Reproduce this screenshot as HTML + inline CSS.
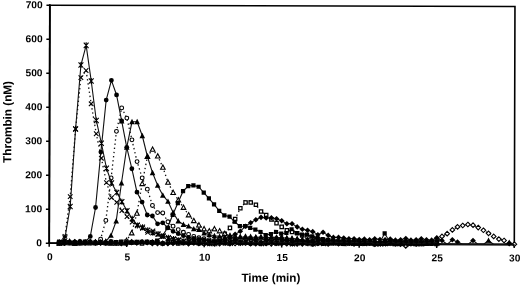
<!DOCTYPE html>
<html><head><meta charset="utf-8"><style>
html,body{margin:0;padding:0;background:#fff;}
body{width:520px;height:285px;overflow:hidden;}
svg{display:block;will-change:transform;}
text{-webkit-font-smoothing:antialiased;}
.tl{font-family:"Liberation Sans",sans-serif;font-weight:bold;font-size:10.2px;fill:#000;}
.tt{font-family:"Liberation Sans",sans-serif;font-weight:bold;font-size:11.7px;fill:#000;}
</style></head><body>
<svg width="520" height="285" viewBox="0 0 520 285">
<g transform="rotate(0.16 49 243.2)">
<path d="M49.2 5.2H514.3V243.2H49.2Z" fill="none" stroke="#000" stroke-width="1.6"/>
<path d="M49.2 4.2V244" stroke="#000" stroke-width="1.8"/>
<path d="M48.4 243.2H515" stroke="#000" stroke-width="1.8"/>
<path d="M45.8 243.20H49.2 M45.8 209.20H49.2 M45.8 175.20H49.2 M45.8 141.20H49.2 M45.8 107.20H49.2 M45.8 73.20H49.2 M45.8 39.20H49.2 M45.8 5.20H49.2 M49.20 243.2V246.8 M126.70 243.2V246.8 M204.20 243.2V246.8 M281.70 243.2V246.8 M359.20 243.2V246.8 M436.70 243.2V246.8 M514.20 243.2V246.8" stroke="#000" stroke-width="1.5"/>
<polyline points="59.24,242.49 64.42,242.76 69.59,242.01 74.76,242.03 79.93,242.57 85.10,242.73 90.28,242.24 95.45,241.96 100.62,242.89 105.79,242.21 110.96,241.75 116.14,242.76 121.31,243.20 126.48,243.20 131.65,242.25 136.82,242.33 142.00,241.75 147.17,241.97 152.34,243.20 157.51,243.20 162.68,243.18 167.86,243.20 173.03,242.27 178.20,241.96 183.37,241.87 188.54,243.19 193.72,241.95 198.89,243.07 204.06,242.85 209.23,242.22 214.40,243.20 219.58,243.20 224.75,242.01 229.92,243.11 235.09,242.98 240.26,242.53 245.44,242.33 250.61,243.20 255.78,243.03 260.95,242.82 266.12,242.72 271.30,243.20 276.47,242.52 281.64,241.76 286.81,242.91 291.98,242.60 297.16,243.20 302.33,243.15 307.50,242.35 312.67,243.20 317.84,241.90 323.02,241.86 328.19,243.20 333.36,241.79 338.53,242.95 343.70,242.13 348.88,242.17 354.05,243.11 359.22,242.33 364.39,242.38 369.56,242.07 374.74,243.17 379.91,242.17 385.08,241.75 390.25,242.34 395.42,242.62 400.60,243.20 405.77,244.90 410.94,242.70 416.11,242.99 421.28,242.25 426.46,241.65 431.63,240.82 436.80,237.69 441.97,235.30 447.14,232.57 452.32,228.81 457.49,225.74 462.66,224.36 467.83,223.33 473.00,223.99 478.18,226.36 483.35,229.06 488.52,232.11 493.69,235.15 498.86,237.86 504.04,239.21 509.21,242.18 514.38,242.86" fill="none" stroke="#111" stroke-width="1.3" stroke-dasharray="1.4 2.8"/>
<path d="M59.24 240.19L61.54 242.49L59.24 244.79L56.94 242.49Z" fill="#fff" stroke="#000" stroke-width="1.1"/>
<path d="M64.42 240.46L66.72 242.76L64.42 245.06L62.12 242.76Z" fill="#fff" stroke="#000" stroke-width="1.1"/>
<path d="M69.59 239.71L71.89 242.01L69.59 244.31L67.29 242.01Z" fill="#fff" stroke="#000" stroke-width="1.1"/>
<path d="M74.76 239.73L77.06 242.03L74.76 244.33L72.46 242.03Z" fill="#fff" stroke="#000" stroke-width="1.1"/>
<path d="M79.93 240.27L82.23 242.57L79.93 244.87L77.63 242.57Z" fill="#fff" stroke="#000" stroke-width="1.1"/>
<path d="M85.10 240.43L87.40 242.73L85.10 245.03L82.80 242.73Z" fill="#fff" stroke="#000" stroke-width="1.1"/>
<path d="M90.28 239.94L92.58 242.24L90.28 244.54L87.98 242.24Z" fill="#fff" stroke="#000" stroke-width="1.1"/>
<path d="M95.45 239.66L97.75 241.96L95.45 244.26L93.15 241.96Z" fill="#fff" stroke="#000" stroke-width="1.1"/>
<path d="M100.62 240.59L102.92 242.89L100.62 245.19L98.32 242.89Z" fill="#fff" stroke="#000" stroke-width="1.1"/>
<path d="M105.79 239.91L108.09 242.21L105.79 244.51L103.49 242.21Z" fill="#fff" stroke="#000" stroke-width="1.1"/>
<path d="M110.96 239.45L113.26 241.75L110.96 244.05L108.66 241.75Z" fill="#fff" stroke="#000" stroke-width="1.1"/>
<path d="M116.14 240.46L118.44 242.76L116.14 245.06L113.84 242.76Z" fill="#fff" stroke="#000" stroke-width="1.1"/>
<path d="M121.31 240.90L123.61 243.20L121.31 245.50L119.01 243.20Z" fill="#fff" stroke="#000" stroke-width="1.1"/>
<path d="M126.48 240.90L128.78 243.20L126.48 245.50L124.18 243.20Z" fill="#fff" stroke="#000" stroke-width="1.1"/>
<path d="M131.65 239.95L133.95 242.25L131.65 244.55L129.35 242.25Z" fill="#fff" stroke="#000" stroke-width="1.1"/>
<path d="M136.82 240.03L139.12 242.33L136.82 244.63L134.52 242.33Z" fill="#fff" stroke="#000" stroke-width="1.1"/>
<path d="M142.00 239.45L144.30 241.75L142.00 244.05L139.70 241.75Z" fill="#fff" stroke="#000" stroke-width="1.1"/>
<path d="M147.17 239.67L149.47 241.97L147.17 244.27L144.87 241.97Z" fill="#fff" stroke="#000" stroke-width="1.1"/>
<path d="M152.34 240.90L154.64 243.20L152.34 245.50L150.04 243.20Z" fill="#fff" stroke="#000" stroke-width="1.1"/>
<path d="M157.51 240.90L159.81 243.20L157.51 245.50L155.21 243.20Z" fill="#fff" stroke="#000" stroke-width="1.1"/>
<path d="M162.68 240.88L164.98 243.18L162.68 245.48L160.38 243.18Z" fill="#fff" stroke="#000" stroke-width="1.1"/>
<path d="M167.86 240.90L170.16 243.20L167.86 245.50L165.56 243.20Z" fill="#fff" stroke="#000" stroke-width="1.1"/>
<path d="M173.03 239.97L175.33 242.27L173.03 244.57L170.73 242.27Z" fill="#fff" stroke="#000" stroke-width="1.1"/>
<path d="M178.20 239.66L180.50 241.96L178.20 244.26L175.90 241.96Z" fill="#fff" stroke="#000" stroke-width="1.1"/>
<path d="M183.37 239.57L185.67 241.87L183.37 244.17L181.07 241.87Z" fill="#fff" stroke="#000" stroke-width="1.1"/>
<path d="M188.54 240.89L190.84 243.19L188.54 245.49L186.24 243.19Z" fill="#fff" stroke="#000" stroke-width="1.1"/>
<path d="M193.72 239.65L196.02 241.95L193.72 244.25L191.42 241.95Z" fill="#fff" stroke="#000" stroke-width="1.1"/>
<path d="M198.89 240.77L201.19 243.07L198.89 245.37L196.59 243.07Z" fill="#fff" stroke="#000" stroke-width="1.1"/>
<path d="M204.06 240.55L206.36 242.85L204.06 245.15L201.76 242.85Z" fill="#fff" stroke="#000" stroke-width="1.1"/>
<path d="M209.23 239.92L211.53 242.22L209.23 244.52L206.93 242.22Z" fill="#fff" stroke="#000" stroke-width="1.1"/>
<path d="M214.40 240.90L216.70 243.20L214.40 245.50L212.10 243.20Z" fill="#fff" stroke="#000" stroke-width="1.1"/>
<path d="M219.58 240.90L221.88 243.20L219.58 245.50L217.28 243.20Z" fill="#fff" stroke="#000" stroke-width="1.1"/>
<path d="M224.75 239.71L227.05 242.01L224.75 244.31L222.45 242.01Z" fill="#fff" stroke="#000" stroke-width="1.1"/>
<path d="M229.92 240.81L232.22 243.11L229.92 245.41L227.62 243.11Z" fill="#fff" stroke="#000" stroke-width="1.1"/>
<path d="M235.09 240.68L237.39 242.98L235.09 245.28L232.79 242.98Z" fill="#fff" stroke="#000" stroke-width="1.1"/>
<path d="M240.26 240.23L242.56 242.53L240.26 244.83L237.96 242.53Z" fill="#fff" stroke="#000" stroke-width="1.1"/>
<path d="M245.44 240.03L247.74 242.33L245.44 244.63L243.14 242.33Z" fill="#fff" stroke="#000" stroke-width="1.1"/>
<path d="M250.61 240.90L252.91 243.20L250.61 245.50L248.31 243.20Z" fill="#fff" stroke="#000" stroke-width="1.1"/>
<path d="M255.78 240.73L258.08 243.03L255.78 245.33L253.48 243.03Z" fill="#fff" stroke="#000" stroke-width="1.1"/>
<path d="M260.95 240.52L263.25 242.82L260.95 245.12L258.65 242.82Z" fill="#fff" stroke="#000" stroke-width="1.1"/>
<path d="M266.12 240.42L268.42 242.72L266.12 245.02L263.82 242.72Z" fill="#fff" stroke="#000" stroke-width="1.1"/>
<path d="M271.30 240.90L273.60 243.20L271.30 245.50L269.00 243.20Z" fill="#fff" stroke="#000" stroke-width="1.1"/>
<path d="M276.47 240.22L278.77 242.52L276.47 244.82L274.17 242.52Z" fill="#fff" stroke="#000" stroke-width="1.1"/>
<path d="M281.64 239.46L283.94 241.76L281.64 244.06L279.34 241.76Z" fill="#fff" stroke="#000" stroke-width="1.1"/>
<path d="M286.81 240.61L289.11 242.91L286.81 245.21L284.51 242.91Z" fill="#fff" stroke="#000" stroke-width="1.1"/>
<path d="M291.98 240.30L294.28 242.60L291.98 244.90L289.68 242.60Z" fill="#fff" stroke="#000" stroke-width="1.1"/>
<path d="M297.16 240.90L299.46 243.20L297.16 245.50L294.86 243.20Z" fill="#fff" stroke="#000" stroke-width="1.1"/>
<path d="M302.33 240.85L304.63 243.15L302.33 245.45L300.03 243.15Z" fill="#fff" stroke="#000" stroke-width="1.1"/>
<path d="M307.50 240.05L309.80 242.35L307.50 244.65L305.20 242.35Z" fill="#fff" stroke="#000" stroke-width="1.1"/>
<path d="M312.67 240.90L314.97 243.20L312.67 245.50L310.37 243.20Z" fill="#fff" stroke="#000" stroke-width="1.1"/>
<path d="M317.84 239.60L320.14 241.90L317.84 244.20L315.54 241.90Z" fill="#fff" stroke="#000" stroke-width="1.1"/>
<path d="M323.02 239.56L325.32 241.86L323.02 244.16L320.72 241.86Z" fill="#fff" stroke="#000" stroke-width="1.1"/>
<path d="M328.19 240.90L330.49 243.20L328.19 245.50L325.89 243.20Z" fill="#fff" stroke="#000" stroke-width="1.1"/>
<path d="M333.36 239.49L335.66 241.79L333.36 244.09L331.06 241.79Z" fill="#fff" stroke="#000" stroke-width="1.1"/>
<path d="M338.53 240.65L340.83 242.95L338.53 245.25L336.23 242.95Z" fill="#fff" stroke="#000" stroke-width="1.1"/>
<path d="M343.70 239.83L346.00 242.13L343.70 244.43L341.40 242.13Z" fill="#fff" stroke="#000" stroke-width="1.1"/>
<path d="M348.88 239.87L351.18 242.17L348.88 244.47L346.58 242.17Z" fill="#fff" stroke="#000" stroke-width="1.1"/>
<path d="M354.05 240.81L356.35 243.11L354.05 245.41L351.75 243.11Z" fill="#fff" stroke="#000" stroke-width="1.1"/>
<path d="M359.22 240.03L361.52 242.33L359.22 244.63L356.92 242.33Z" fill="#fff" stroke="#000" stroke-width="1.1"/>
<path d="M364.39 240.08L366.69 242.38L364.39 244.68L362.09 242.38Z" fill="#fff" stroke="#000" stroke-width="1.1"/>
<path d="M369.56 239.77L371.86 242.07L369.56 244.37L367.26 242.07Z" fill="#fff" stroke="#000" stroke-width="1.1"/>
<path d="M374.74 240.87L377.04 243.17L374.74 245.47L372.44 243.17Z" fill="#fff" stroke="#000" stroke-width="1.1"/>
<path d="M379.91 239.87L382.21 242.17L379.91 244.47L377.61 242.17Z" fill="#fff" stroke="#000" stroke-width="1.1"/>
<path d="M385.08 239.45L387.38 241.75L385.08 244.05L382.78 241.75Z" fill="#fff" stroke="#000" stroke-width="1.1"/>
<path d="M390.25 240.04L392.55 242.34L390.25 244.64L387.95 242.34Z" fill="#fff" stroke="#000" stroke-width="1.1"/>
<path d="M395.42 240.32L397.72 242.62L395.42 244.92L393.12 242.62Z" fill="#fff" stroke="#000" stroke-width="1.1"/>
<path d="M400.60 240.90L402.90 243.20L400.60 245.50L398.30 243.20Z" fill="#fff" stroke="#000" stroke-width="1.1"/>
<path d="M405.77 242.60L408.07 244.90L405.77 247.20L403.47 244.90Z" fill="#fff" stroke="#000" stroke-width="1.1"/>
<path d="M410.94 240.40L413.24 242.70L410.94 245.00L408.64 242.70Z" fill="#fff" stroke="#000" stroke-width="1.1"/>
<path d="M416.11 240.69L418.41 242.99L416.11 245.29L413.81 242.99Z" fill="#fff" stroke="#000" stroke-width="1.1"/>
<path d="M421.28 239.95L423.58 242.25L421.28 244.55L418.98 242.25Z" fill="#fff" stroke="#000" stroke-width="1.1"/>
<path d="M426.46 239.35L428.76 241.65L426.46 243.95L424.16 241.65Z" fill="#fff" stroke="#000" stroke-width="1.1"/>
<path d="M431.63 238.52L433.93 240.82L431.63 243.12L429.33 240.82Z" fill="#fff" stroke="#000" stroke-width="1.1"/>
<path d="M436.80 235.39L439.10 237.69L436.80 239.99L434.50 237.69Z" fill="#fff" stroke="#000" stroke-width="1.1"/>
<path d="M441.97 233.00L444.27 235.30L441.97 237.60L439.67 235.30Z" fill="#fff" stroke="#000" stroke-width="1.1"/>
<path d="M447.14 230.27L449.44 232.57L447.14 234.87L444.84 232.57Z" fill="#fff" stroke="#000" stroke-width="1.1"/>
<path d="M452.32 226.51L454.62 228.81L452.32 231.11L450.02 228.81Z" fill="#fff" stroke="#000" stroke-width="1.1"/>
<path d="M457.49 223.44L459.79 225.74L457.49 228.04L455.19 225.74Z" fill="#fff" stroke="#000" stroke-width="1.1"/>
<path d="M462.66 222.06L464.96 224.36L462.66 226.66L460.36 224.36Z" fill="#fff" stroke="#000" stroke-width="1.1"/>
<path d="M467.83 221.03L470.13 223.33L467.83 225.63L465.53 223.33Z" fill="#fff" stroke="#000" stroke-width="1.1"/>
<path d="M473.00 221.69L475.30 223.99L473.00 226.29L470.70 223.99Z" fill="#fff" stroke="#000" stroke-width="1.1"/>
<path d="M478.18 224.06L480.48 226.36L478.18 228.66L475.88 226.36Z" fill="#fff" stroke="#000" stroke-width="1.1"/>
<path d="M483.35 226.76L485.65 229.06L483.35 231.36L481.05 229.06Z" fill="#fff" stroke="#000" stroke-width="1.1"/>
<path d="M488.52 229.81L490.82 232.11L488.52 234.41L486.22 232.11Z" fill="#fff" stroke="#000" stroke-width="1.1"/>
<path d="M493.69 232.85L495.99 235.15L493.69 237.45L491.39 235.15Z" fill="#fff" stroke="#000" stroke-width="1.1"/>
<path d="M498.86 235.56L501.16 237.86L498.86 240.16L496.56 237.86Z" fill="#fff" stroke="#000" stroke-width="1.1"/>
<path d="M504.04 236.91L506.34 239.21L504.04 241.51L501.74 239.21Z" fill="#fff" stroke="#000" stroke-width="1.1"/>
<path d="M509.21 239.88L511.51 242.18L509.21 244.48L506.91 242.18Z" fill="#fff" stroke="#000" stroke-width="1.1"/>
<path d="M514.38 240.56L516.68 242.86L514.38 245.16L512.08 242.86Z" fill="#fff" stroke="#000" stroke-width="1.1"/>
<polyline points="59.24,243.08 64.42,241.79 69.59,243.20 74.76,243.18 79.93,243.17 85.10,241.57 90.28,243.00 95.45,243.20 100.62,241.65 105.79,243.12 110.96,241.65 116.14,242.00 121.31,241.66 126.48,241.43 131.65,242.19 136.82,241.74 142.00,243.20 147.17,241.80 152.34,242.33 157.51,241.91 162.68,243.15 167.86,241.84 173.03,241.46 178.20,243.20 183.37,242.71 188.54,242.22 193.72,241.68 198.89,242.88 204.06,243.00 209.23,242.86 214.40,241.77 219.58,238.64 224.75,233.19 229.92,227.39 235.09,218.54 240.26,207.64 245.44,201.85 250.61,201.84 255.78,204.20 260.95,210.99 266.12,214.37 271.30,218.78 276.47,222.50 281.64,226.23 286.81,229.61 291.98,231.30 297.16,232.65 302.33,234.67 307.50,236.36 312.67,237.36 317.84,238.37 323.02,239.03 328.19,239.53 333.36,240.74 338.53,241.11 343.70,240.74 348.88,241.74 354.05,242.02 359.22,242.15 364.39,242.32 369.56,242.18 374.74,242.86 379.91,242.01 385.08,241.04 390.25,242.19 395.42,241.51 400.60,242.70 405.77,241.62 410.94,241.49 416.11,241.66 421.28,241.98 426.46,242.04 431.63,241.72 436.80,241.20" fill="none" stroke="#111" stroke-width="1.3" stroke-dasharray="1.4 2.8"/>
<rect x="57.59" y="241.43" width="3.3" height="3.3" fill="#fff" stroke="#000" stroke-width="1.25"/>
<rect x="62.77" y="240.14" width="3.3" height="3.3" fill="#fff" stroke="#000" stroke-width="1.25"/>
<rect x="67.94" y="241.55" width="3.3" height="3.3" fill="#fff" stroke="#000" stroke-width="1.25"/>
<rect x="73.11" y="241.53" width="3.3" height="3.3" fill="#fff" stroke="#000" stroke-width="1.25"/>
<rect x="78.28" y="241.52" width="3.3" height="3.3" fill="#fff" stroke="#000" stroke-width="1.25"/>
<rect x="83.45" y="239.92" width="3.3" height="3.3" fill="#fff" stroke="#000" stroke-width="1.25"/>
<rect x="88.63" y="241.35" width="3.3" height="3.3" fill="#fff" stroke="#000" stroke-width="1.25"/>
<rect x="93.80" y="241.55" width="3.3" height="3.3" fill="#fff" stroke="#000" stroke-width="1.25"/>
<rect x="98.97" y="240.00" width="3.3" height="3.3" fill="#fff" stroke="#000" stroke-width="1.25"/>
<rect x="104.14" y="241.47" width="3.3" height="3.3" fill="#fff" stroke="#000" stroke-width="1.25"/>
<rect x="109.31" y="240.00" width="3.3" height="3.3" fill="#fff" stroke="#000" stroke-width="1.25"/>
<rect x="114.49" y="240.35" width="3.3" height="3.3" fill="#fff" stroke="#000" stroke-width="1.25"/>
<rect x="119.66" y="240.01" width="3.3" height="3.3" fill="#fff" stroke="#000" stroke-width="1.25"/>
<rect x="124.83" y="239.78" width="3.3" height="3.3" fill="#fff" stroke="#000" stroke-width="1.25"/>
<rect x="130.00" y="240.54" width="3.3" height="3.3" fill="#fff" stroke="#000" stroke-width="1.25"/>
<rect x="135.17" y="240.09" width="3.3" height="3.3" fill="#fff" stroke="#000" stroke-width="1.25"/>
<rect x="140.35" y="241.55" width="3.3" height="3.3" fill="#fff" stroke="#000" stroke-width="1.25"/>
<rect x="145.52" y="240.15" width="3.3" height="3.3" fill="#fff" stroke="#000" stroke-width="1.25"/>
<rect x="150.69" y="240.68" width="3.3" height="3.3" fill="#fff" stroke="#000" stroke-width="1.25"/>
<rect x="155.86" y="240.26" width="3.3" height="3.3" fill="#fff" stroke="#000" stroke-width="1.25"/>
<rect x="161.03" y="241.50" width="3.3" height="3.3" fill="#fff" stroke="#000" stroke-width="1.25"/>
<rect x="166.21" y="240.19" width="3.3" height="3.3" fill="#fff" stroke="#000" stroke-width="1.25"/>
<rect x="171.38" y="239.81" width="3.3" height="3.3" fill="#fff" stroke="#000" stroke-width="1.25"/>
<rect x="176.55" y="241.55" width="3.3" height="3.3" fill="#fff" stroke="#000" stroke-width="1.25"/>
<rect x="181.72" y="241.06" width="3.3" height="3.3" fill="#fff" stroke="#000" stroke-width="1.25"/>
<rect x="186.89" y="240.57" width="3.3" height="3.3" fill="#fff" stroke="#000" stroke-width="1.25"/>
<rect x="192.07" y="240.03" width="3.3" height="3.3" fill="#fff" stroke="#000" stroke-width="1.25"/>
<rect x="197.24" y="241.23" width="3.3" height="3.3" fill="#fff" stroke="#000" stroke-width="1.25"/>
<rect x="202.41" y="241.35" width="3.3" height="3.3" fill="#fff" stroke="#000" stroke-width="1.25"/>
<rect x="207.58" y="241.21" width="3.3" height="3.3" fill="#fff" stroke="#000" stroke-width="1.25"/>
<rect x="212.75" y="240.12" width="3.3" height="3.3" fill="#fff" stroke="#000" stroke-width="1.25"/>
<rect x="217.93" y="236.99" width="3.3" height="3.3" fill="#fff" stroke="#000" stroke-width="1.25"/>
<rect x="223.10" y="231.54" width="3.3" height="3.3" fill="#fff" stroke="#000" stroke-width="1.25"/>
<rect x="228.27" y="225.74" width="3.3" height="3.3" fill="#fff" stroke="#000" stroke-width="1.25"/>
<rect x="233.44" y="216.89" width="3.3" height="3.3" fill="#fff" stroke="#000" stroke-width="1.25"/>
<rect x="238.61" y="205.99" width="3.3" height="3.3" fill="#fff" stroke="#000" stroke-width="1.25"/>
<rect x="243.79" y="200.20" width="3.3" height="3.3" fill="#fff" stroke="#000" stroke-width="1.25"/>
<rect x="248.96" y="200.19" width="3.3" height="3.3" fill="#fff" stroke="#000" stroke-width="1.25"/>
<rect x="254.13" y="202.55" width="3.3" height="3.3" fill="#fff" stroke="#000" stroke-width="1.25"/>
<rect x="259.30" y="209.34" width="3.3" height="3.3" fill="#fff" stroke="#000" stroke-width="1.25"/>
<rect x="264.47" y="212.72" width="3.3" height="3.3" fill="#fff" stroke="#000" stroke-width="1.25"/>
<rect x="269.65" y="217.13" width="3.3" height="3.3" fill="#fff" stroke="#000" stroke-width="1.25"/>
<rect x="274.82" y="220.85" width="3.3" height="3.3" fill="#fff" stroke="#000" stroke-width="1.25"/>
<rect x="279.99" y="224.58" width="3.3" height="3.3" fill="#fff" stroke="#000" stroke-width="1.25"/>
<rect x="285.16" y="227.96" width="3.3" height="3.3" fill="#fff" stroke="#000" stroke-width="1.25"/>
<rect x="290.33" y="229.65" width="3.3" height="3.3" fill="#fff" stroke="#000" stroke-width="1.25"/>
<rect x="295.51" y="231.00" width="3.3" height="3.3" fill="#fff" stroke="#000" stroke-width="1.25"/>
<rect x="300.68" y="233.02" width="3.3" height="3.3" fill="#fff" stroke="#000" stroke-width="1.25"/>
<rect x="305.85" y="234.71" width="3.3" height="3.3" fill="#fff" stroke="#000" stroke-width="1.25"/>
<rect x="311.02" y="235.71" width="3.3" height="3.3" fill="#fff" stroke="#000" stroke-width="1.25"/>
<rect x="316.19" y="236.72" width="3.3" height="3.3" fill="#fff" stroke="#000" stroke-width="1.25"/>
<rect x="321.37" y="237.38" width="3.3" height="3.3" fill="#fff" stroke="#000" stroke-width="1.25"/>
<rect x="326.54" y="237.88" width="3.3" height="3.3" fill="#fff" stroke="#000" stroke-width="1.25"/>
<rect x="331.71" y="239.09" width="3.3" height="3.3" fill="#fff" stroke="#000" stroke-width="1.25"/>
<rect x="336.88" y="239.46" width="3.3" height="3.3" fill="#fff" stroke="#000" stroke-width="1.25"/>
<rect x="342.05" y="239.09" width="3.3" height="3.3" fill="#fff" stroke="#000" stroke-width="1.25"/>
<rect x="347.23" y="240.09" width="3.3" height="3.3" fill="#fff" stroke="#000" stroke-width="1.25"/>
<rect x="352.40" y="240.37" width="3.3" height="3.3" fill="#fff" stroke="#000" stroke-width="1.25"/>
<rect x="357.57" y="240.50" width="3.3" height="3.3" fill="#fff" stroke="#000" stroke-width="1.25"/>
<rect x="362.74" y="240.67" width="3.3" height="3.3" fill="#fff" stroke="#000" stroke-width="1.25"/>
<rect x="367.91" y="240.53" width="3.3" height="3.3" fill="#fff" stroke="#000" stroke-width="1.25"/>
<rect x="373.09" y="241.21" width="3.3" height="3.3" fill="#fff" stroke="#000" stroke-width="1.25"/>
<rect x="378.26" y="240.36" width="3.3" height="3.3" fill="#fff" stroke="#000" stroke-width="1.25"/>
<rect x="383.43" y="239.39" width="3.3" height="3.3" fill="#fff" stroke="#000" stroke-width="1.25"/>
<rect x="388.60" y="240.54" width="3.3" height="3.3" fill="#fff" stroke="#000" stroke-width="1.25"/>
<rect x="393.77" y="239.86" width="3.3" height="3.3" fill="#fff" stroke="#000" stroke-width="1.25"/>
<rect x="398.95" y="241.05" width="3.3" height="3.3" fill="#fff" stroke="#000" stroke-width="1.25"/>
<rect x="404.12" y="239.97" width="3.3" height="3.3" fill="#fff" stroke="#000" stroke-width="1.25"/>
<rect x="409.29" y="239.84" width="3.3" height="3.3" fill="#fff" stroke="#000" stroke-width="1.25"/>
<rect x="414.46" y="240.01" width="3.3" height="3.3" fill="#fff" stroke="#000" stroke-width="1.25"/>
<rect x="419.63" y="240.33" width="3.3" height="3.3" fill="#fff" stroke="#000" stroke-width="1.25"/>
<rect x="424.81" y="240.39" width="3.3" height="3.3" fill="#fff" stroke="#000" stroke-width="1.25"/>
<rect x="429.98" y="240.07" width="3.3" height="3.3" fill="#fff" stroke="#000" stroke-width="1.25"/>
<rect x="435.15" y="239.55" width="3.3" height="3.3" fill="#fff" stroke="#000" stroke-width="1.25"/>
<polyline points="59.24,243.20 64.42,242.09 69.59,241.61 74.76,243.20 79.93,242.82 85.10,242.82 90.28,242.29 95.45,242.51 100.62,242.41 105.79,241.79 110.96,243.20 116.14,243.20 121.31,242.77 126.48,240.26 131.65,232.77 136.82,213.03 142.00,183.44 147.17,156.23 152.34,149.07 157.51,155.86 162.68,167.06 167.86,182.01 173.03,192.19 178.20,199.66 183.37,207.12 188.54,214.59 193.72,220.35 198.89,224.76 204.06,228.49 209.23,230.51 214.40,228.46 219.58,230.48 224.75,233.19 229.92,235.21 235.09,235.88 240.26,236.54 245.44,236.19 250.61,236.52 255.78,237.18 260.95,236.49 266.12,236.81 271.30,237.48 276.47,237.12 281.64,236.43 286.81,237.77 291.98,238.10 297.16,238.43 302.33,239.09 307.50,239.42 312.67,239.74 317.84,240.89 323.02,241.83 328.19,242.24 333.36,240.64 338.53,241.10 343.70,242.85 348.88,242.01 354.05,242.39 359.22,242.39 364.39,242.31 369.56,241.71 374.74,241.83 379.91,242.29 385.08,242.64 390.25,242.36 395.42,242.78 400.60,241.90 405.77,241.57 410.94,242.25 416.11,242.87 421.28,242.67 426.46,242.27 431.63,241.80 436.80,241.43" fill="none" stroke="#111" stroke-width="1.3" stroke-dasharray="1.4 2.8"/>
<path d="M59.24 240.80L61.54 245.10L56.94 245.10Z" fill="#fff" stroke="#000" stroke-width="1.1" stroke-linejoin="miter"/>
<path d="M64.42 239.69L66.72 243.99L62.12 243.99Z" fill="#fff" stroke="#000" stroke-width="1.1" stroke-linejoin="miter"/>
<path d="M69.59 239.21L71.89 243.51L67.29 243.51Z" fill="#fff" stroke="#000" stroke-width="1.1" stroke-linejoin="miter"/>
<path d="M74.76 240.80L77.06 245.10L72.46 245.10Z" fill="#fff" stroke="#000" stroke-width="1.1" stroke-linejoin="miter"/>
<path d="M79.93 240.42L82.23 244.72L77.63 244.72Z" fill="#fff" stroke="#000" stroke-width="1.1" stroke-linejoin="miter"/>
<path d="M85.10 240.42L87.40 244.72L82.80 244.72Z" fill="#fff" stroke="#000" stroke-width="1.1" stroke-linejoin="miter"/>
<path d="M90.28 239.89L92.58 244.19L87.98 244.19Z" fill="#fff" stroke="#000" stroke-width="1.1" stroke-linejoin="miter"/>
<path d="M95.45 240.11L97.75 244.41L93.15 244.41Z" fill="#fff" stroke="#000" stroke-width="1.1" stroke-linejoin="miter"/>
<path d="M100.62 240.01L102.92 244.31L98.32 244.31Z" fill="#fff" stroke="#000" stroke-width="1.1" stroke-linejoin="miter"/>
<path d="M105.79 239.39L108.09 243.69L103.49 243.69Z" fill="#fff" stroke="#000" stroke-width="1.1" stroke-linejoin="miter"/>
<path d="M110.96 240.80L113.26 245.10L108.66 245.10Z" fill="#fff" stroke="#000" stroke-width="1.1" stroke-linejoin="miter"/>
<path d="M116.14 240.80L118.44 245.10L113.84 245.10Z" fill="#fff" stroke="#000" stroke-width="1.1" stroke-linejoin="miter"/>
<path d="M121.31 240.37L123.61 244.67L119.01 244.67Z" fill="#fff" stroke="#000" stroke-width="1.1" stroke-linejoin="miter"/>
<path d="M126.48 237.86L128.78 242.16L124.18 242.16Z" fill="#fff" stroke="#000" stroke-width="1.1" stroke-linejoin="miter"/>
<path d="M131.65 230.37L133.95 234.67L129.35 234.67Z" fill="#fff" stroke="#000" stroke-width="1.1" stroke-linejoin="miter"/>
<path d="M136.82 210.63L139.12 214.93L134.52 214.93Z" fill="#fff" stroke="#000" stroke-width="1.1" stroke-linejoin="miter"/>
<path d="M142.00 181.04L144.30 185.34L139.70 185.34Z" fill="#fff" stroke="#000" stroke-width="1.1" stroke-linejoin="miter"/>
<path d="M147.17 153.83L149.47 158.13L144.87 158.13Z" fill="#fff" stroke="#000" stroke-width="1.1" stroke-linejoin="miter"/>
<path d="M152.34 146.67L154.64 150.97L150.04 150.97Z" fill="#fff" stroke="#000" stroke-width="1.1" stroke-linejoin="miter"/>
<path d="M157.51 153.46L159.81 157.76L155.21 157.76Z" fill="#fff" stroke="#000" stroke-width="1.1" stroke-linejoin="miter"/>
<path d="M162.68 164.66L164.98 168.96L160.38 168.96Z" fill="#fff" stroke="#000" stroke-width="1.1" stroke-linejoin="miter"/>
<path d="M167.86 179.61L170.16 183.91L165.56 183.91Z" fill="#fff" stroke="#000" stroke-width="1.1" stroke-linejoin="miter"/>
<path d="M173.03 189.79L175.33 194.09L170.73 194.09Z" fill="#fff" stroke="#000" stroke-width="1.1" stroke-linejoin="miter"/>
<path d="M178.20 197.26L180.50 201.56L175.90 201.56Z" fill="#fff" stroke="#000" stroke-width="1.1" stroke-linejoin="miter"/>
<path d="M183.37 204.72L185.67 209.02L181.07 209.02Z" fill="#fff" stroke="#000" stroke-width="1.1" stroke-linejoin="miter"/>
<path d="M188.54 212.19L190.84 216.49L186.24 216.49Z" fill="#fff" stroke="#000" stroke-width="1.1" stroke-linejoin="miter"/>
<path d="M193.72 217.95L196.02 222.25L191.42 222.25Z" fill="#fff" stroke="#000" stroke-width="1.1" stroke-linejoin="miter"/>
<path d="M198.89 222.36L201.19 226.66L196.59 226.66Z" fill="#fff" stroke="#000" stroke-width="1.1" stroke-linejoin="miter"/>
<path d="M204.06 226.09L206.36 230.39L201.76 230.39Z" fill="#fff" stroke="#000" stroke-width="1.1" stroke-linejoin="miter"/>
<path d="M209.23 228.11L211.53 232.41L206.93 232.41Z" fill="#fff" stroke="#000" stroke-width="1.1" stroke-linejoin="miter"/>
<path d="M214.40 226.06L216.70 230.36L212.10 230.36Z" fill="#fff" stroke="#000" stroke-width="1.1" stroke-linejoin="miter"/>
<path d="M219.58 228.08L221.88 232.38L217.28 232.38Z" fill="#fff" stroke="#000" stroke-width="1.1" stroke-linejoin="miter"/>
<path d="M224.75 230.79L227.05 235.09L222.45 235.09Z" fill="#fff" stroke="#000" stroke-width="1.1" stroke-linejoin="miter"/>
<path d="M229.92 232.81L232.22 237.11L227.62 237.11Z" fill="#fff" stroke="#000" stroke-width="1.1" stroke-linejoin="miter"/>
<path d="M235.09 233.48L237.39 237.78L232.79 237.78Z" fill="#fff" stroke="#000" stroke-width="1.1" stroke-linejoin="miter"/>
<path d="M240.26 234.14L242.56 238.44L237.96 238.44Z" fill="#fff" stroke="#000" stroke-width="1.1" stroke-linejoin="miter"/>
<path d="M245.44 233.79L247.74 238.09L243.14 238.09Z" fill="#fff" stroke="#000" stroke-width="1.1" stroke-linejoin="miter"/>
<path d="M250.61 234.12L252.91 238.42L248.31 238.42Z" fill="#fff" stroke="#000" stroke-width="1.1" stroke-linejoin="miter"/>
<path d="M255.78 234.78L258.08 239.08L253.48 239.08Z" fill="#fff" stroke="#000" stroke-width="1.1" stroke-linejoin="miter"/>
<path d="M260.95 234.09L263.25 238.39L258.65 238.39Z" fill="#fff" stroke="#000" stroke-width="1.1" stroke-linejoin="miter"/>
<path d="M266.12 234.41L268.42 238.71L263.82 238.71Z" fill="#fff" stroke="#000" stroke-width="1.1" stroke-linejoin="miter"/>
<path d="M271.30 235.08L273.60 239.38L269.00 239.38Z" fill="#fff" stroke="#000" stroke-width="1.1" stroke-linejoin="miter"/>
<path d="M276.47 234.72L278.77 239.02L274.17 239.02Z" fill="#fff" stroke="#000" stroke-width="1.1" stroke-linejoin="miter"/>
<path d="M281.64 234.03L283.94 238.33L279.34 238.33Z" fill="#fff" stroke="#000" stroke-width="1.1" stroke-linejoin="miter"/>
<path d="M286.81 235.37L289.11 239.67L284.51 239.67Z" fill="#fff" stroke="#000" stroke-width="1.1" stroke-linejoin="miter"/>
<path d="M291.98 235.70L294.28 240.00L289.68 240.00Z" fill="#fff" stroke="#000" stroke-width="1.1" stroke-linejoin="miter"/>
<path d="M297.16 236.03L299.46 240.33L294.86 240.33Z" fill="#fff" stroke="#000" stroke-width="1.1" stroke-linejoin="miter"/>
<path d="M302.33 236.69L304.63 240.99L300.03 240.99Z" fill="#fff" stroke="#000" stroke-width="1.1" stroke-linejoin="miter"/>
<path d="M307.50 237.02L309.80 241.32L305.20 241.32Z" fill="#fff" stroke="#000" stroke-width="1.1" stroke-linejoin="miter"/>
<path d="M312.67 237.34L314.97 241.64L310.37 241.64Z" fill="#fff" stroke="#000" stroke-width="1.1" stroke-linejoin="miter"/>
<path d="M317.84 238.49L320.14 242.79L315.54 242.79Z" fill="#fff" stroke="#000" stroke-width="1.1" stroke-linejoin="miter"/>
<path d="M323.02 239.43L325.32 243.73L320.72 243.73Z" fill="#fff" stroke="#000" stroke-width="1.1" stroke-linejoin="miter"/>
<path d="M328.19 239.84L330.49 244.14L325.89 244.14Z" fill="#fff" stroke="#000" stroke-width="1.1" stroke-linejoin="miter"/>
<path d="M333.36 238.24L335.66 242.54L331.06 242.54Z" fill="#fff" stroke="#000" stroke-width="1.1" stroke-linejoin="miter"/>
<path d="M338.53 238.70L340.83 243.00L336.23 243.00Z" fill="#fff" stroke="#000" stroke-width="1.1" stroke-linejoin="miter"/>
<path d="M343.70 240.45L346.00 244.75L341.40 244.75Z" fill="#fff" stroke="#000" stroke-width="1.1" stroke-linejoin="miter"/>
<path d="M348.88 239.61L351.18 243.91L346.58 243.91Z" fill="#fff" stroke="#000" stroke-width="1.1" stroke-linejoin="miter"/>
<path d="M354.05 239.99L356.35 244.29L351.75 244.29Z" fill="#fff" stroke="#000" stroke-width="1.1" stroke-linejoin="miter"/>
<path d="M359.22 239.99L361.52 244.29L356.92 244.29Z" fill="#fff" stroke="#000" stroke-width="1.1" stroke-linejoin="miter"/>
<path d="M364.39 239.91L366.69 244.21L362.09 244.21Z" fill="#fff" stroke="#000" stroke-width="1.1" stroke-linejoin="miter"/>
<path d="M369.56 239.31L371.86 243.61L367.26 243.61Z" fill="#fff" stroke="#000" stroke-width="1.1" stroke-linejoin="miter"/>
<path d="M374.74 239.43L377.04 243.73L372.44 243.73Z" fill="#fff" stroke="#000" stroke-width="1.1" stroke-linejoin="miter"/>
<path d="M379.91 239.89L382.21 244.19L377.61 244.19Z" fill="#fff" stroke="#000" stroke-width="1.1" stroke-linejoin="miter"/>
<path d="M385.08 240.24L387.38 244.54L382.78 244.54Z" fill="#fff" stroke="#000" stroke-width="1.1" stroke-linejoin="miter"/>
<path d="M390.25 239.96L392.55 244.26L387.95 244.26Z" fill="#fff" stroke="#000" stroke-width="1.1" stroke-linejoin="miter"/>
<path d="M395.42 240.38L397.72 244.68L393.12 244.68Z" fill="#fff" stroke="#000" stroke-width="1.1" stroke-linejoin="miter"/>
<path d="M400.60 239.50L402.90 243.80L398.30 243.80Z" fill="#fff" stroke="#000" stroke-width="1.1" stroke-linejoin="miter"/>
<path d="M405.77 239.17L408.07 243.47L403.47 243.47Z" fill="#fff" stroke="#000" stroke-width="1.1" stroke-linejoin="miter"/>
<path d="M410.94 239.85L413.24 244.15L408.64 244.15Z" fill="#fff" stroke="#000" stroke-width="1.1" stroke-linejoin="miter"/>
<path d="M416.11 240.47L418.41 244.77L413.81 244.77Z" fill="#fff" stroke="#000" stroke-width="1.1" stroke-linejoin="miter"/>
<path d="M421.28 240.27L423.58 244.57L418.98 244.57Z" fill="#fff" stroke="#000" stroke-width="1.1" stroke-linejoin="miter"/>
<path d="M426.46 239.87L428.76 244.17L424.16 244.17Z" fill="#fff" stroke="#000" stroke-width="1.1" stroke-linejoin="miter"/>
<path d="M431.63 239.40L433.93 243.70L429.33 243.70Z" fill="#fff" stroke="#000" stroke-width="1.1" stroke-linejoin="miter"/>
<path d="M436.80 239.03L439.10 243.33L434.50 243.33Z" fill="#fff" stroke="#000" stroke-width="1.1" stroke-linejoin="miter"/>
<polyline points="59.24,241.95 64.42,243.16 69.59,242.71 74.76,242.69 79.93,241.67 85.10,242.48 90.28,241.62 95.45,242.68 100.62,238.98 105.79,220.26 110.96,177.75 116.14,131.15 121.31,107.68 126.48,117.86 131.65,139.61 136.82,161.35 142.00,177.66 147.17,188.87 152.34,205.17 157.51,212.30 162.68,212.62 167.86,221.45 173.03,225.85 178.20,229.24 183.37,231.94 188.54,233.97 193.72,235.99 198.89,237.34 204.06,238.35 209.23,239.35 214.40,240.02 219.58,240.89 224.75,241.40 229.92,241.05 235.09,240.82 240.26,241.92 245.44,242.57 250.61,242.78 255.78,241.95 260.95,242.64 266.12,241.38 271.30,241.32 276.47,242.66 281.64,242.46 286.81,241.38 291.98,241.72 297.16,241.39 302.33,242.33 307.50,242.77 312.67,242.43 317.84,241.41 323.02,242.48 328.19,242.32 333.36,242.18 338.53,242.17 343.70,242.19 348.88,241.15 354.05,242.71 359.22,243.02 364.39,241.11 369.56,241.23 374.74,241.02 379.91,242.14 385.08,241.09 390.25,241.14 395.42,242.58 400.60,241.51 405.77,241.32 410.94,241.68 416.11,241.97 421.28,242.44 426.46,242.33 431.63,242.57 436.80,242.89" fill="none" stroke="#111" stroke-width="1.3" stroke-dasharray="1.4 2.8"/>
<circle cx="59.24" cy="241.95" r="1.9" fill="#fff" stroke="#000" stroke-width="1.1"/>
<circle cx="64.42" cy="243.16" r="1.9" fill="#fff" stroke="#000" stroke-width="1.1"/>
<circle cx="69.59" cy="242.71" r="1.9" fill="#fff" stroke="#000" stroke-width="1.1"/>
<circle cx="74.76" cy="242.69" r="1.9" fill="#fff" stroke="#000" stroke-width="1.1"/>
<circle cx="79.93" cy="241.67" r="1.9" fill="#fff" stroke="#000" stroke-width="1.1"/>
<circle cx="85.10" cy="242.48" r="1.9" fill="#fff" stroke="#000" stroke-width="1.1"/>
<circle cx="90.28" cy="241.62" r="1.9" fill="#fff" stroke="#000" stroke-width="1.1"/>
<circle cx="95.45" cy="242.68" r="1.9" fill="#fff" stroke="#000" stroke-width="1.1"/>
<circle cx="100.62" cy="238.98" r="1.9" fill="#fff" stroke="#000" stroke-width="1.1"/>
<circle cx="105.79" cy="220.26" r="1.9" fill="#fff" stroke="#000" stroke-width="1.1"/>
<circle cx="110.96" cy="177.75" r="1.9" fill="#fff" stroke="#000" stroke-width="1.1"/>
<circle cx="116.14" cy="131.15" r="1.9" fill="#fff" stroke="#000" stroke-width="1.1"/>
<circle cx="121.31" cy="107.68" r="1.9" fill="#fff" stroke="#000" stroke-width="1.1"/>
<circle cx="126.48" cy="117.86" r="1.9" fill="#fff" stroke="#000" stroke-width="1.1"/>
<circle cx="131.65" cy="139.61" r="1.9" fill="#fff" stroke="#000" stroke-width="1.1"/>
<circle cx="136.82" cy="161.35" r="1.9" fill="#fff" stroke="#000" stroke-width="1.1"/>
<circle cx="142.00" cy="177.66" r="1.9" fill="#fff" stroke="#000" stroke-width="1.1"/>
<circle cx="147.17" cy="188.87" r="1.9" fill="#fff" stroke="#000" stroke-width="1.1"/>
<circle cx="152.34" cy="205.17" r="1.9" fill="#fff" stroke="#000" stroke-width="1.1"/>
<circle cx="157.51" cy="212.30" r="1.9" fill="#fff" stroke="#000" stroke-width="1.1"/>
<circle cx="162.68" cy="212.62" r="1.9" fill="#fff" stroke="#000" stroke-width="1.1"/>
<circle cx="167.86" cy="221.45" r="1.9" fill="#fff" stroke="#000" stroke-width="1.1"/>
<circle cx="173.03" cy="225.85" r="1.9" fill="#fff" stroke="#000" stroke-width="1.1"/>
<circle cx="178.20" cy="229.24" r="1.9" fill="#fff" stroke="#000" stroke-width="1.1"/>
<circle cx="183.37" cy="231.94" r="1.9" fill="#fff" stroke="#000" stroke-width="1.1"/>
<circle cx="188.54" cy="233.97" r="1.9" fill="#fff" stroke="#000" stroke-width="1.1"/>
<circle cx="193.72" cy="235.99" r="1.9" fill="#fff" stroke="#000" stroke-width="1.1"/>
<circle cx="198.89" cy="237.34" r="1.9" fill="#fff" stroke="#000" stroke-width="1.1"/>
<circle cx="204.06" cy="238.35" r="1.9" fill="#fff" stroke="#000" stroke-width="1.1"/>
<circle cx="209.23" cy="239.35" r="1.9" fill="#fff" stroke="#000" stroke-width="1.1"/>
<circle cx="214.40" cy="240.02" r="1.9" fill="#fff" stroke="#000" stroke-width="1.1"/>
<circle cx="219.58" cy="240.89" r="1.9" fill="#fff" stroke="#000" stroke-width="1.1"/>
<circle cx="224.75" cy="241.40" r="1.9" fill="#fff" stroke="#000" stroke-width="1.1"/>
<circle cx="229.92" cy="241.05" r="1.9" fill="#fff" stroke="#000" stroke-width="1.1"/>
<circle cx="235.09" cy="240.82" r="1.9" fill="#fff" stroke="#000" stroke-width="1.1"/>
<circle cx="240.26" cy="241.92" r="1.9" fill="#fff" stroke="#000" stroke-width="1.1"/>
<circle cx="245.44" cy="242.57" r="1.9" fill="#fff" stroke="#000" stroke-width="1.1"/>
<circle cx="250.61" cy="242.78" r="1.9" fill="#fff" stroke="#000" stroke-width="1.1"/>
<circle cx="255.78" cy="241.95" r="1.9" fill="#fff" stroke="#000" stroke-width="1.1"/>
<circle cx="260.95" cy="242.64" r="1.9" fill="#fff" stroke="#000" stroke-width="1.1"/>
<circle cx="266.12" cy="241.38" r="1.9" fill="#fff" stroke="#000" stroke-width="1.1"/>
<circle cx="271.30" cy="241.32" r="1.9" fill="#fff" stroke="#000" stroke-width="1.1"/>
<circle cx="276.47" cy="242.66" r="1.9" fill="#fff" stroke="#000" stroke-width="1.1"/>
<circle cx="281.64" cy="242.46" r="1.9" fill="#fff" stroke="#000" stroke-width="1.1"/>
<circle cx="286.81" cy="241.38" r="1.9" fill="#fff" stroke="#000" stroke-width="1.1"/>
<circle cx="291.98" cy="241.72" r="1.9" fill="#fff" stroke="#000" stroke-width="1.1"/>
<circle cx="297.16" cy="241.39" r="1.9" fill="#fff" stroke="#000" stroke-width="1.1"/>
<circle cx="302.33" cy="242.33" r="1.9" fill="#fff" stroke="#000" stroke-width="1.1"/>
<circle cx="307.50" cy="242.77" r="1.9" fill="#fff" stroke="#000" stroke-width="1.1"/>
<circle cx="312.67" cy="242.43" r="1.9" fill="#fff" stroke="#000" stroke-width="1.1"/>
<circle cx="317.84" cy="241.41" r="1.9" fill="#fff" stroke="#000" stroke-width="1.1"/>
<circle cx="323.02" cy="242.48" r="1.9" fill="#fff" stroke="#000" stroke-width="1.1"/>
<circle cx="328.19" cy="242.32" r="1.9" fill="#fff" stroke="#000" stroke-width="1.1"/>
<circle cx="333.36" cy="242.18" r="1.9" fill="#fff" stroke="#000" stroke-width="1.1"/>
<circle cx="338.53" cy="242.17" r="1.9" fill="#fff" stroke="#000" stroke-width="1.1"/>
<circle cx="343.70" cy="242.19" r="1.9" fill="#fff" stroke="#000" stroke-width="1.1"/>
<circle cx="348.88" cy="241.15" r="1.9" fill="#fff" stroke="#000" stroke-width="1.1"/>
<circle cx="354.05" cy="242.71" r="1.9" fill="#fff" stroke="#000" stroke-width="1.1"/>
<circle cx="359.22" cy="243.02" r="1.9" fill="#fff" stroke="#000" stroke-width="1.1"/>
<circle cx="364.39" cy="241.11" r="1.9" fill="#fff" stroke="#000" stroke-width="1.1"/>
<circle cx="369.56" cy="241.23" r="1.9" fill="#fff" stroke="#000" stroke-width="1.1"/>
<circle cx="374.74" cy="241.02" r="1.9" fill="#fff" stroke="#000" stroke-width="1.1"/>
<circle cx="379.91" cy="242.14" r="1.9" fill="#fff" stroke="#000" stroke-width="1.1"/>
<circle cx="385.08" cy="241.09" r="1.9" fill="#fff" stroke="#000" stroke-width="1.1"/>
<circle cx="390.25" cy="241.14" r="1.9" fill="#fff" stroke="#000" stroke-width="1.1"/>
<circle cx="395.42" cy="242.58" r="1.9" fill="#fff" stroke="#000" stroke-width="1.1"/>
<circle cx="400.60" cy="241.51" r="1.9" fill="#fff" stroke="#000" stroke-width="1.1"/>
<circle cx="405.77" cy="241.32" r="1.9" fill="#fff" stroke="#000" stroke-width="1.1"/>
<circle cx="410.94" cy="241.68" r="1.9" fill="#fff" stroke="#000" stroke-width="1.1"/>
<circle cx="416.11" cy="241.97" r="1.9" fill="#fff" stroke="#000" stroke-width="1.1"/>
<circle cx="421.28" cy="242.44" r="1.9" fill="#fff" stroke="#000" stroke-width="1.1"/>
<circle cx="426.46" cy="242.33" r="1.9" fill="#fff" stroke="#000" stroke-width="1.1"/>
<circle cx="431.63" cy="242.57" r="1.9" fill="#fff" stroke="#000" stroke-width="1.1"/>
<circle cx="436.80" cy="242.89" r="1.9" fill="#fff" stroke="#000" stroke-width="1.1"/>
<polyline points="59.74,241.98 64.92,236.36 70.09,196.56 75.26,128.89 80.43,77.53 85.60,70.38 90.78,103.68 95.95,133.59 101.12,158.06 106.29,182.52 111.46,197.47 116.64,202.21 121.81,210.36 126.98,216.46 132.15,221.89 137.32,224.59 142.50,227.98 147.67,232.05 152.84,230.67 158.01,234.06 163.18,236.08 168.36,237.77 173.53,238.77 178.70,239.78 183.87,240.82 189.04,240.45 194.22,240.86 199.39,240.80 204.56,241.64 209.73,242.70 214.90,241.27 220.08,241.06 225.25,241.18 230.42,241.87 235.59,241.57 240.76,242.60 245.94,241.33 251.11,241.86 256.28,242.45 261.45,242.90 266.62,241.29 271.80,241.01 276.97,242.85 282.14,241.40 287.31,242.19 292.48,242.72 297.66,242.43 302.83,241.46 308.00,241.25 313.17,242.94 318.34,241.78 323.52,242.94 328.69,241.56 333.86,242.35 339.03,241.23 344.20,241.03 349.38,242.00 354.55,240.99 359.72,242.40 364.89,242.87 370.06,241.81 375.24,242.97 380.41,242.63 385.58,242.20 390.75,241.78 395.92,242.71 401.10,242.94 406.27,241.26 411.44,242.39 416.61,241.07 421.78,241.20 426.96,242.26 432.13,242.09 437.30,241.97" fill="none" stroke="#111" stroke-width="1.3" stroke-dasharray="1.4 2.8"/>
<path d="M57.44 239.68L62.04 244.28M62.04 239.68L57.44 244.28" stroke="#000" stroke-width="1.1" fill="none"/>
<path d="M62.62 234.06L67.22 238.66M67.22 234.06L62.62 238.66" stroke="#000" stroke-width="1.1" fill="none"/>
<path d="M67.79 194.26L72.39 198.86M72.39 194.26L67.79 198.86" stroke="#000" stroke-width="1.1" fill="none"/>
<path d="M72.96 126.59L77.56 131.19M77.56 126.59L72.96 131.19" stroke="#000" stroke-width="1.1" fill="none"/>
<path d="M78.13 75.23L82.73 79.83M82.73 75.23L78.13 79.83" stroke="#000" stroke-width="1.1" fill="none"/>
<path d="M83.30 68.08L87.90 72.68M87.90 68.08L83.30 72.68" stroke="#000" stroke-width="1.1" fill="none"/>
<path d="M88.48 101.38L93.08 105.98M93.08 101.38L88.48 105.98" stroke="#000" stroke-width="1.1" fill="none"/>
<path d="M93.65 131.29L98.25 135.89M98.25 131.29L93.65 135.89" stroke="#000" stroke-width="1.1" fill="none"/>
<path d="M98.82 155.76L103.42 160.36M103.42 155.76L98.82 160.36" stroke="#000" stroke-width="1.1" fill="none"/>
<path d="M103.99 180.22L108.59 184.82M108.59 180.22L103.99 184.82" stroke="#000" stroke-width="1.1" fill="none"/>
<path d="M109.16 195.17L113.76 199.77M113.76 195.17L109.16 199.77" stroke="#000" stroke-width="1.1" fill="none"/>
<path d="M114.34 199.91L118.94 204.51M118.94 199.91L114.34 204.51" stroke="#000" stroke-width="1.1" fill="none"/>
<path d="M119.51 208.06L124.11 212.66M124.11 208.06L119.51 212.66" stroke="#000" stroke-width="1.1" fill="none"/>
<path d="M124.68 214.16L129.28 218.76M129.28 214.16L124.68 218.76" stroke="#000" stroke-width="1.1" fill="none"/>
<path d="M129.85 219.59L134.45 224.19M134.45 219.59L129.85 224.19" stroke="#000" stroke-width="1.1" fill="none"/>
<path d="M135.02 222.29L139.62 226.89M139.62 222.29L135.02 226.89" stroke="#000" stroke-width="1.1" fill="none"/>
<path d="M140.20 225.68L144.80 230.28M144.80 225.68L140.20 230.28" stroke="#000" stroke-width="1.1" fill="none"/>
<path d="M145.37 229.75L149.97 234.35M149.97 229.75L145.37 234.35" stroke="#000" stroke-width="1.1" fill="none"/>
<path d="M150.54 228.37L155.14 232.97M155.14 228.37L150.54 232.97" stroke="#000" stroke-width="1.1" fill="none"/>
<path d="M155.71 231.76L160.31 236.36M160.31 231.76L155.71 236.36" stroke="#000" stroke-width="1.1" fill="none"/>
<path d="M160.88 233.78L165.48 238.38M165.48 233.78L160.88 238.38" stroke="#000" stroke-width="1.1" fill="none"/>
<path d="M166.06 235.47L170.66 240.07M170.66 235.47L166.06 240.07" stroke="#000" stroke-width="1.1" fill="none"/>
<path d="M171.23 236.47L175.83 241.07M175.83 236.47L171.23 241.07" stroke="#000" stroke-width="1.1" fill="none"/>
<path d="M176.40 237.48L181.00 242.08M181.00 237.48L176.40 242.08" stroke="#000" stroke-width="1.1" fill="none"/>
<path d="M181.57 238.52L186.17 243.12M186.17 238.52L181.57 243.12" stroke="#000" stroke-width="1.1" fill="none"/>
<path d="M186.74 238.15L191.34 242.75M191.34 238.15L186.74 242.75" stroke="#000" stroke-width="1.1" fill="none"/>
<path d="M191.92 238.56L196.52 243.16M196.52 238.56L191.92 243.16" stroke="#000" stroke-width="1.1" fill="none"/>
<path d="M197.09 238.50L201.69 243.10M201.69 238.50L197.09 243.10" stroke="#000" stroke-width="1.1" fill="none"/>
<path d="M202.26 239.34L206.86 243.94M206.86 239.34L202.26 243.94" stroke="#000" stroke-width="1.1" fill="none"/>
<path d="M207.43 240.40L212.03 245.00M212.03 240.40L207.43 245.00" stroke="#000" stroke-width="1.1" fill="none"/>
<path d="M212.60 238.97L217.20 243.57M217.20 238.97L212.60 243.57" stroke="#000" stroke-width="1.1" fill="none"/>
<path d="M217.78 238.76L222.38 243.36M222.38 238.76L217.78 243.36" stroke="#000" stroke-width="1.1" fill="none"/>
<path d="M222.95 238.88L227.55 243.48M227.55 238.88L222.95 243.48" stroke="#000" stroke-width="1.1" fill="none"/>
<path d="M228.12 239.57L232.72 244.17M232.72 239.57L228.12 244.17" stroke="#000" stroke-width="1.1" fill="none"/>
<path d="M233.29 239.27L237.89 243.87M237.89 239.27L233.29 243.87" stroke="#000" stroke-width="1.1" fill="none"/>
<path d="M238.46 240.30L243.06 244.90M243.06 240.30L238.46 244.90" stroke="#000" stroke-width="1.1" fill="none"/>
<path d="M243.64 239.03L248.24 243.63M248.24 239.03L243.64 243.63" stroke="#000" stroke-width="1.1" fill="none"/>
<path d="M248.81 239.56L253.41 244.16M253.41 239.56L248.81 244.16" stroke="#000" stroke-width="1.1" fill="none"/>
<path d="M253.98 240.15L258.58 244.75M258.58 240.15L253.98 244.75" stroke="#000" stroke-width="1.1" fill="none"/>
<path d="M259.15 240.60L263.75 245.20M263.75 240.60L259.15 245.20" stroke="#000" stroke-width="1.1" fill="none"/>
<path d="M264.32 238.99L268.92 243.59M268.92 238.99L264.32 243.59" stroke="#000" stroke-width="1.1" fill="none"/>
<path d="M269.50 238.71L274.10 243.31M274.10 238.71L269.50 243.31" stroke="#000" stroke-width="1.1" fill="none"/>
<path d="M274.67 240.55L279.27 245.15M279.27 240.55L274.67 245.15" stroke="#000" stroke-width="1.1" fill="none"/>
<path d="M279.84 239.10L284.44 243.70M284.44 239.10L279.84 243.70" stroke="#000" stroke-width="1.1" fill="none"/>
<path d="M285.01 239.89L289.61 244.49M289.61 239.89L285.01 244.49" stroke="#000" stroke-width="1.1" fill="none"/>
<path d="M290.18 240.42L294.78 245.02M294.78 240.42L290.18 245.02" stroke="#000" stroke-width="1.1" fill="none"/>
<path d="M295.36 240.13L299.96 244.73M299.96 240.13L295.36 244.73" stroke="#000" stroke-width="1.1" fill="none"/>
<path d="M300.53 239.16L305.13 243.76M305.13 239.16L300.53 243.76" stroke="#000" stroke-width="1.1" fill="none"/>
<path d="M305.70 238.95L310.30 243.55M310.30 238.95L305.70 243.55" stroke="#000" stroke-width="1.1" fill="none"/>
<path d="M310.87 240.64L315.47 245.24M315.47 240.64L310.87 245.24" stroke="#000" stroke-width="1.1" fill="none"/>
<path d="M316.04 239.48L320.64 244.08M320.64 239.48L316.04 244.08" stroke="#000" stroke-width="1.1" fill="none"/>
<path d="M321.22 240.64L325.82 245.24M325.82 240.64L321.22 245.24" stroke="#000" stroke-width="1.1" fill="none"/>
<path d="M326.39 239.26L330.99 243.86M330.99 239.26L326.39 243.86" stroke="#000" stroke-width="1.1" fill="none"/>
<path d="M331.56 240.05L336.16 244.65M336.16 240.05L331.56 244.65" stroke="#000" stroke-width="1.1" fill="none"/>
<path d="M336.73 238.93L341.33 243.53M341.33 238.93L336.73 243.53" stroke="#000" stroke-width="1.1" fill="none"/>
<path d="M341.90 238.73L346.50 243.33M346.50 238.73L341.90 243.33" stroke="#000" stroke-width="1.1" fill="none"/>
<path d="M347.08 239.70L351.68 244.30M351.68 239.70L347.08 244.30" stroke="#000" stroke-width="1.1" fill="none"/>
<path d="M352.25 238.69L356.85 243.29M356.85 238.69L352.25 243.29" stroke="#000" stroke-width="1.1" fill="none"/>
<path d="M357.42 240.10L362.02 244.70M362.02 240.10L357.42 244.70" stroke="#000" stroke-width="1.1" fill="none"/>
<path d="M362.59 240.57L367.19 245.17M367.19 240.57L362.59 245.17" stroke="#000" stroke-width="1.1" fill="none"/>
<path d="M367.76 239.51L372.36 244.11M372.36 239.51L367.76 244.11" stroke="#000" stroke-width="1.1" fill="none"/>
<path d="M372.94 240.67L377.54 245.27M377.54 240.67L372.94 245.27" stroke="#000" stroke-width="1.1" fill="none"/>
<path d="M378.11 240.33L382.71 244.93M382.71 240.33L378.11 244.93" stroke="#000" stroke-width="1.1" fill="none"/>
<path d="M383.28 239.90L387.88 244.50M387.88 239.90L383.28 244.50" stroke="#000" stroke-width="1.1" fill="none"/>
<path d="M388.45 239.48L393.05 244.08M393.05 239.48L388.45 244.08" stroke="#000" stroke-width="1.1" fill="none"/>
<path d="M393.62 240.41L398.22 245.01M398.22 240.41L393.62 245.01" stroke="#000" stroke-width="1.1" fill="none"/>
<path d="M398.80 240.64L403.40 245.24M403.40 240.64L398.80 245.24" stroke="#000" stroke-width="1.1" fill="none"/>
<path d="M403.97 238.96L408.57 243.56M408.57 238.96L403.97 243.56" stroke="#000" stroke-width="1.1" fill="none"/>
<path d="M409.14 240.09L413.74 244.69M413.74 240.09L409.14 244.69" stroke="#000" stroke-width="1.1" fill="none"/>
<path d="M414.31 238.77L418.91 243.37M418.91 238.77L414.31 243.37" stroke="#000" stroke-width="1.1" fill="none"/>
<path d="M419.48 238.90L424.08 243.50M424.08 238.90L419.48 243.50" stroke="#000" stroke-width="1.1" fill="none"/>
<path d="M424.66 239.96L429.26 244.56M429.26 239.96L424.66 244.56" stroke="#000" stroke-width="1.1" fill="none"/>
<path d="M429.83 239.79L434.43 244.39M434.43 239.79L429.83 244.39" stroke="#000" stroke-width="1.1" fill="none"/>
<path d="M435.00 239.67L439.60 244.27M439.60 239.67L435.00 244.27" stroke="#000" stroke-width="1.1" fill="none"/>
<polyline points="59.24,243.07 64.42,243.17 69.59,241.84 74.76,241.50 79.93,242.31 85.10,242.47 90.28,241.90 95.45,242.99 100.62,242.82 105.79,242.96 110.96,242.18 116.14,242.73 121.31,242.90 126.48,241.96 131.65,241.43 136.82,242.77 142.00,241.93 147.17,242.53 152.34,241.63 157.51,242.18 162.68,242.82 167.86,242.93 173.03,243.20 178.20,242.39 183.37,242.59 188.54,243.02 193.72,242.63 198.89,242.71 204.06,241.79 209.23,243.08 214.40,241.35 219.58,242.05 224.75,239.31 229.92,235.89 235.09,233.84 240.26,230.76 245.44,225.65 250.61,222.24 255.78,219.16 260.95,216.77 266.12,217.43 271.30,217.08 276.47,218.08 281.64,220.11 286.81,223.15 291.98,223.14 297.16,226.19 302.33,228.55 307.50,229.56 312.67,230.90 317.84,233.95 323.02,231.55 328.19,234.60 333.36,236.62 338.53,236.61 343.70,237.27 348.88,237.94 354.05,237.93 359.22,238.59 364.39,238.24 369.56,238.90 374.74,237.87 379.91,238.53 385.08,238.86 390.25,238.16 395.42,239.17 400.60,238.82 405.77,237.44 410.94,239.13 416.11,238.77 421.28,237.74 426.46,238.74 431.63,239.07 436.80,236.67 441.97,239.38 447.14,243.20 452.32,238.67 457.49,240.82 462.66,243.20 467.83,243.20 473.00,239.29 478.18,243.20 483.35,243.20 488.52,243.20 493.69,243.20 498.86,243.20 504.04,243.20 509.21,243.20 514.38,243.20" fill="none" stroke="#111" stroke-width="1.1"/>
<path d="M59.24 240.27L62.04 243.07L59.24 245.87L56.44 243.07Z" fill="#000"/>
<path d="M64.42 240.37L67.22 243.17L64.42 245.97L61.62 243.17Z" fill="#000"/>
<path d="M69.59 239.04L72.39 241.84L69.59 244.64L66.79 241.84Z" fill="#000"/>
<path d="M74.76 238.70L77.56 241.50L74.76 244.30L71.96 241.50Z" fill="#000"/>
<path d="M79.93 239.51L82.73 242.31L79.93 245.11L77.13 242.31Z" fill="#000"/>
<path d="M85.10 239.67L87.90 242.47L85.10 245.27L82.30 242.47Z" fill="#000"/>
<path d="M90.28 239.10L93.08 241.90L90.28 244.70L87.48 241.90Z" fill="#000"/>
<path d="M95.45 240.19L98.25 242.99L95.45 245.79L92.65 242.99Z" fill="#000"/>
<path d="M100.62 240.02L103.42 242.82L100.62 245.62L97.82 242.82Z" fill="#000"/>
<path d="M105.79 240.16L108.59 242.96L105.79 245.76L102.99 242.96Z" fill="#000"/>
<path d="M110.96 239.38L113.76 242.18L110.96 244.98L108.16 242.18Z" fill="#000"/>
<path d="M116.14 239.93L118.94 242.73L116.14 245.53L113.34 242.73Z" fill="#000"/>
<path d="M121.31 240.10L124.11 242.90L121.31 245.70L118.51 242.90Z" fill="#000"/>
<path d="M126.48 239.16L129.28 241.96L126.48 244.76L123.68 241.96Z" fill="#000"/>
<path d="M131.65 238.63L134.45 241.43L131.65 244.23L128.85 241.43Z" fill="#000"/>
<path d="M136.82 239.97L139.62 242.77L136.82 245.57L134.02 242.77Z" fill="#000"/>
<path d="M142.00 239.13L144.80 241.93L142.00 244.73L139.20 241.93Z" fill="#000"/>
<path d="M147.17 239.73L149.97 242.53L147.17 245.33L144.37 242.53Z" fill="#000"/>
<path d="M152.34 238.83L155.14 241.63L152.34 244.43L149.54 241.63Z" fill="#000"/>
<path d="M157.51 239.38L160.31 242.18L157.51 244.98L154.71 242.18Z" fill="#000"/>
<path d="M162.68 240.02L165.48 242.82L162.68 245.62L159.88 242.82Z" fill="#000"/>
<path d="M167.86 240.13L170.66 242.93L167.86 245.73L165.06 242.93Z" fill="#000"/>
<path d="M173.03 240.40L175.83 243.20L173.03 246.00L170.23 243.20Z" fill="#000"/>
<path d="M178.20 239.59L181.00 242.39L178.20 245.19L175.40 242.39Z" fill="#000"/>
<path d="M183.37 239.79L186.17 242.59L183.37 245.39L180.57 242.59Z" fill="#000"/>
<path d="M188.54 240.22L191.34 243.02L188.54 245.82L185.74 243.02Z" fill="#000"/>
<path d="M193.72 239.83L196.52 242.63L193.72 245.43L190.92 242.63Z" fill="#000"/>
<path d="M198.89 239.91L201.69 242.71L198.89 245.51L196.09 242.71Z" fill="#000"/>
<path d="M204.06 238.99L206.86 241.79L204.06 244.59L201.26 241.79Z" fill="#000"/>
<path d="M209.23 240.28L212.03 243.08L209.23 245.88L206.43 243.08Z" fill="#000"/>
<path d="M214.40 238.55L217.20 241.35L214.40 244.15L211.60 241.35Z" fill="#000"/>
<path d="M219.58 239.25L222.38 242.05L219.58 244.85L216.78 242.05Z" fill="#000"/>
<path d="M224.75 236.51L227.55 239.31L224.75 242.11L221.95 239.31Z" fill="#000"/>
<path d="M229.92 233.09L232.72 235.89L229.92 238.69L227.12 235.89Z" fill="#000"/>
<path d="M235.09 231.04L237.89 233.84L235.09 236.64L232.29 233.84Z" fill="#000"/>
<path d="M240.26 227.96L243.06 230.76L240.26 233.56L237.46 230.76Z" fill="#000"/>
<path d="M245.44 222.85L248.24 225.65L245.44 228.45L242.64 225.65Z" fill="#000"/>
<path d="M250.61 219.44L253.41 222.24L250.61 225.04L247.81 222.24Z" fill="#000"/>
<path d="M255.78 216.36L258.58 219.16L255.78 221.96L252.98 219.16Z" fill="#000"/>
<path d="M260.95 213.97L263.75 216.77L260.95 219.57L258.15 216.77Z" fill="#000"/>
<path d="M266.12 214.63L268.92 217.43L266.12 220.23L263.32 217.43Z" fill="#000"/>
<path d="M271.30 214.28L274.10 217.08L271.30 219.88L268.50 217.08Z" fill="#000"/>
<path d="M276.47 215.28L279.27 218.08L276.47 220.88L273.67 218.08Z" fill="#000"/>
<path d="M281.64 217.31L284.44 220.11L281.64 222.91L278.84 220.11Z" fill="#000"/>
<path d="M286.81 220.35L289.61 223.15L286.81 225.95L284.01 223.15Z" fill="#000"/>
<path d="M291.98 220.34L294.78 223.14L291.98 225.94L289.18 223.14Z" fill="#000"/>
<path d="M297.16 223.39L299.96 226.19L297.16 228.99L294.36 226.19Z" fill="#000"/>
<path d="M302.33 225.75L305.13 228.55L302.33 231.35L299.53 228.55Z" fill="#000"/>
<path d="M307.50 226.76L310.30 229.56L307.50 232.36L304.70 229.56Z" fill="#000"/>
<path d="M312.67 228.10L315.47 230.90L312.67 233.70L309.87 230.90Z" fill="#000"/>
<path d="M317.84 231.15L320.64 233.95L317.84 236.75L315.04 233.95Z" fill="#000"/>
<path d="M323.02 228.75L325.82 231.55L323.02 234.35L320.22 231.55Z" fill="#000"/>
<path d="M328.19 231.80L330.99 234.60L328.19 237.40L325.39 234.60Z" fill="#000"/>
<path d="M333.36 233.82L336.16 236.62L333.36 239.42L330.56 236.62Z" fill="#000"/>
<path d="M338.53 233.81L341.33 236.61L338.53 239.41L335.73 236.61Z" fill="#000"/>
<path d="M343.70 234.47L346.50 237.27L343.70 240.07L340.90 237.27Z" fill="#000"/>
<path d="M348.88 235.14L351.68 237.94L348.88 240.74L346.08 237.94Z" fill="#000"/>
<path d="M354.05 235.13L356.85 237.93L354.05 240.73L351.25 237.93Z" fill="#000"/>
<path d="M359.22 235.79L362.02 238.59L359.22 241.39L356.42 238.59Z" fill="#000"/>
<path d="M364.39 235.44L367.19 238.24L364.39 241.04L361.59 238.24Z" fill="#000"/>
<path d="M369.56 236.10L372.36 238.90L369.56 241.70L366.76 238.90Z" fill="#000"/>
<path d="M374.74 235.07L377.54 237.87L374.74 240.67L371.94 237.87Z" fill="#000"/>
<path d="M379.91 235.73L382.71 238.53L379.91 241.33L377.11 238.53Z" fill="#000"/>
<path d="M385.08 236.06L387.88 238.86L385.08 241.66L382.28 238.86Z" fill="#000"/>
<path d="M390.25 235.36L393.05 238.16L390.25 240.96L387.45 238.16Z" fill="#000"/>
<path d="M395.42 236.37L398.22 239.17L395.42 241.97L392.62 239.17Z" fill="#000"/>
<path d="M400.60 236.02L403.40 238.82L400.60 241.62L397.80 238.82Z" fill="#000"/>
<path d="M405.77 234.64L408.57 237.44L405.77 240.24L402.97 237.44Z" fill="#000"/>
<path d="M410.94 236.33L413.74 239.13L410.94 241.93L408.14 239.13Z" fill="#000"/>
<path d="M416.11 235.97L418.91 238.77L416.11 241.57L413.31 238.77Z" fill="#000"/>
<path d="M421.28 234.94L424.08 237.74L421.28 240.54L418.48 237.74Z" fill="#000"/>
<path d="M426.46 235.94L429.26 238.74L426.46 241.54L423.66 238.74Z" fill="#000"/>
<path d="M431.63 236.27L434.43 239.07L431.63 241.87L428.83 239.07Z" fill="#000"/>
<path d="M436.80 233.87L439.60 236.67L436.80 239.47L434.00 236.67Z" fill="#000"/>
<path d="M441.97 236.58L444.77 239.38L441.97 242.18L439.17 239.38Z" fill="#000"/>
<path d="M452.32 235.87L455.12 238.67L452.32 241.47L449.52 238.67Z" fill="#000"/>
<path d="M457.49 238.02L460.29 240.82L457.49 243.62L454.69 240.82Z" fill="#000"/>
<path d="M473.00 236.49L475.80 239.29L473.00 242.09L470.20 239.29Z" fill="#000"/>
<polyline points="58.79,242.59 63.97,241.74 69.14,242.10 74.31,242.49 79.48,242.61 84.65,242.36 89.83,241.94 95.00,242.51 100.17,241.95 105.34,242.43 110.51,242.87 115.69,242.28 120.86,241.95 126.03,243.20 131.20,242.50 136.37,242.50 141.55,241.58 146.72,241.46 151.89,241.93 157.06,240.18 162.23,236.08 167.41,227.57 172.58,214.63 177.75,202.72 182.92,190.80 188.09,185.69 193.27,184.99 198.44,186.34 203.61,192.11 208.78,197.87 213.95,203.98 219.13,210.42 224.30,214.83 229.47,216.17 234.64,221.26 239.81,225.66 244.99,225.65 250.16,227.34 255.33,229.02 260.50,231.39 265.67,234.43 270.85,233.40 276.02,231.34 281.19,233.03 286.36,232.33 291.53,228.58 296.71,232.31 301.88,233.99 307.05,233.98 312.22,235.66 317.39,237.35 322.57,238.35 327.74,239.02 332.91,239.68 338.08,240.63 343.25,240.78 348.43,240.93 353.60,241.08 358.77,240.25 363.94,240.62 369.11,241.85 374.29,241.59 379.46,242.44 384.63,232.40 389.80,241.03 394.97,241.54 400.15,241.22 405.32,241.41 410.49,241.67 415.66,241.53 420.83,241.88 426.01,242.82 431.18,241.83 436.35,243.02" fill="none" stroke="#111" stroke-width="1.1"/>
<rect x="56.69" y="240.49" width="4.2" height="4.2" fill="#000"/>
<rect x="61.87" y="239.64" width="4.2" height="4.2" fill="#000"/>
<rect x="67.04" y="240.00" width="4.2" height="4.2" fill="#000"/>
<rect x="72.21" y="240.39" width="4.2" height="4.2" fill="#000"/>
<rect x="77.38" y="240.51" width="4.2" height="4.2" fill="#000"/>
<rect x="82.55" y="240.26" width="4.2" height="4.2" fill="#000"/>
<rect x="87.73" y="239.84" width="4.2" height="4.2" fill="#000"/>
<rect x="92.90" y="240.41" width="4.2" height="4.2" fill="#000"/>
<rect x="98.07" y="239.85" width="4.2" height="4.2" fill="#000"/>
<rect x="103.24" y="240.33" width="4.2" height="4.2" fill="#000"/>
<rect x="108.41" y="240.77" width="4.2" height="4.2" fill="#000"/>
<rect x="113.59" y="240.18" width="4.2" height="4.2" fill="#000"/>
<rect x="118.76" y="239.85" width="4.2" height="4.2" fill="#000"/>
<rect x="123.93" y="241.10" width="4.2" height="4.2" fill="#000"/>
<rect x="129.10" y="240.40" width="4.2" height="4.2" fill="#000"/>
<rect x="134.27" y="240.40" width="4.2" height="4.2" fill="#000"/>
<rect x="139.45" y="239.48" width="4.2" height="4.2" fill="#000"/>
<rect x="144.62" y="239.36" width="4.2" height="4.2" fill="#000"/>
<rect x="149.79" y="239.83" width="4.2" height="4.2" fill="#000"/>
<rect x="154.96" y="238.08" width="4.2" height="4.2" fill="#000"/>
<rect x="160.13" y="233.98" width="4.2" height="4.2" fill="#000"/>
<rect x="165.31" y="225.47" width="4.2" height="4.2" fill="#000"/>
<rect x="170.48" y="212.53" width="4.2" height="4.2" fill="#000"/>
<rect x="175.65" y="200.62" width="4.2" height="4.2" fill="#000"/>
<rect x="180.82" y="188.70" width="4.2" height="4.2" fill="#000"/>
<rect x="185.99" y="183.59" width="4.2" height="4.2" fill="#000"/>
<rect x="191.17" y="182.89" width="4.2" height="4.2" fill="#000"/>
<rect x="196.34" y="184.24" width="4.2" height="4.2" fill="#000"/>
<rect x="201.51" y="190.01" width="4.2" height="4.2" fill="#000"/>
<rect x="206.68" y="195.77" width="4.2" height="4.2" fill="#000"/>
<rect x="211.85" y="201.88" width="4.2" height="4.2" fill="#000"/>
<rect x="217.03" y="208.32" width="4.2" height="4.2" fill="#000"/>
<rect x="222.20" y="212.73" width="4.2" height="4.2" fill="#000"/>
<rect x="227.37" y="214.07" width="4.2" height="4.2" fill="#000"/>
<rect x="232.54" y="219.16" width="4.2" height="4.2" fill="#000"/>
<rect x="237.71" y="223.56" width="4.2" height="4.2" fill="#000"/>
<rect x="242.89" y="223.55" width="4.2" height="4.2" fill="#000"/>
<rect x="248.06" y="225.24" width="4.2" height="4.2" fill="#000"/>
<rect x="253.23" y="226.92" width="4.2" height="4.2" fill="#000"/>
<rect x="258.40" y="229.29" width="4.2" height="4.2" fill="#000"/>
<rect x="263.57" y="232.33" width="4.2" height="4.2" fill="#000"/>
<rect x="268.75" y="231.30" width="4.2" height="4.2" fill="#000"/>
<rect x="273.92" y="229.24" width="4.2" height="4.2" fill="#000"/>
<rect x="279.09" y="230.93" width="4.2" height="4.2" fill="#000"/>
<rect x="284.26" y="230.23" width="4.2" height="4.2" fill="#000"/>
<rect x="289.43" y="226.48" width="4.2" height="4.2" fill="#000"/>
<rect x="294.61" y="230.21" width="4.2" height="4.2" fill="#000"/>
<rect x="299.78" y="231.89" width="4.2" height="4.2" fill="#000"/>
<rect x="304.95" y="231.88" width="4.2" height="4.2" fill="#000"/>
<rect x="310.12" y="233.56" width="4.2" height="4.2" fill="#000"/>
<rect x="315.29" y="235.25" width="4.2" height="4.2" fill="#000"/>
<rect x="320.47" y="236.25" width="4.2" height="4.2" fill="#000"/>
<rect x="325.64" y="236.92" width="4.2" height="4.2" fill="#000"/>
<rect x="330.81" y="237.58" width="4.2" height="4.2" fill="#000"/>
<rect x="335.98" y="238.53" width="4.2" height="4.2" fill="#000"/>
<rect x="341.15" y="238.68" width="4.2" height="4.2" fill="#000"/>
<rect x="346.33" y="238.83" width="4.2" height="4.2" fill="#000"/>
<rect x="351.50" y="238.98" width="4.2" height="4.2" fill="#000"/>
<rect x="356.67" y="238.15" width="4.2" height="4.2" fill="#000"/>
<rect x="361.84" y="238.52" width="4.2" height="4.2" fill="#000"/>
<rect x="367.01" y="239.75" width="4.2" height="4.2" fill="#000"/>
<rect x="372.19" y="239.49" width="4.2" height="4.2" fill="#000"/>
<rect x="377.36" y="240.34" width="4.2" height="4.2" fill="#000"/>
<rect x="382.53" y="230.30" width="4.2" height="4.2" fill="#000"/>
<rect x="387.70" y="238.93" width="4.2" height="4.2" fill="#000"/>
<rect x="392.87" y="239.44" width="4.2" height="4.2" fill="#000"/>
<rect x="398.05" y="239.12" width="4.2" height="4.2" fill="#000"/>
<rect x="403.22" y="239.31" width="4.2" height="4.2" fill="#000"/>
<rect x="408.39" y="239.57" width="4.2" height="4.2" fill="#000"/>
<rect x="413.56" y="239.43" width="4.2" height="4.2" fill="#000"/>
<rect x="418.73" y="239.78" width="4.2" height="4.2" fill="#000"/>
<rect x="423.91" y="240.72" width="4.2" height="4.2" fill="#000"/>
<rect x="429.08" y="239.73" width="4.2" height="4.2" fill="#000"/>
<rect x="434.25" y="240.92" width="4.2" height="4.2" fill="#000"/>
<polyline points="59.24,242.17 64.42,242.78 69.59,241.72 74.76,243.20 79.93,241.53 85.10,241.95 90.28,241.49 95.45,241.54 100.62,241.53 105.79,241.17 110.96,235.21 116.14,220.91 121.31,182.82 126.48,147.10 131.65,121.59 136.82,121.57 142.00,135.50 147.17,156.23 152.34,172.53 157.51,185.10 162.68,194.94 167.86,201.05 173.03,212.25 178.20,220.74 183.37,224.12 188.54,225.81 193.72,228.51 198.89,229.18 204.06,232.57 209.23,234.25 214.40,235.26 219.58,235.92 224.75,236.59 229.92,236.91 235.09,237.24 240.26,236.54 245.44,236.87 250.61,237.20 255.78,236.50 260.95,236.83 266.12,237.15 271.30,236.46 276.47,236.78 281.64,237.11 286.81,237.43 291.98,237.76 297.16,238.43 302.33,239.09 307.50,239.42 312.67,239.74 317.84,240.89 323.02,242.06 328.19,240.86 333.36,242.28 338.53,242.23 343.70,241.67 348.88,241.96 354.05,242.19 359.22,241.11 364.39,241.78 369.56,242.33 374.74,242.51 379.91,241.27 385.08,242.06 390.25,241.43 395.42,242.31 400.60,242.63 405.77,241.94 410.94,241.36 416.11,242.68 421.28,241.41 426.46,241.15 431.63,241.39 436.80,241.35 441.97,243.20 447.14,243.20 452.32,243.20 457.49,243.20 462.66,243.20 467.83,243.20 473.00,243.20 478.18,243.20 483.35,243.20 488.52,239.25 493.69,243.20 498.86,243.20 504.04,243.20 509.21,241.16 514.38,243.20" fill="none" stroke="#111" stroke-width="1.1"/>
<path d="M59.24 239.17L62.04 244.57L56.44 244.57Z" fill="#000"/>
<path d="M64.42 239.78L67.22 245.18L61.62 245.18Z" fill="#000"/>
<path d="M69.59 238.72L72.39 244.12L66.79 244.12Z" fill="#000"/>
<path d="M74.76 240.20L77.56 245.60L71.96 245.60Z" fill="#000"/>
<path d="M79.93 238.53L82.73 243.93L77.13 243.93Z" fill="#000"/>
<path d="M85.10 238.95L87.90 244.35L82.30 244.35Z" fill="#000"/>
<path d="M90.28 238.49L93.08 243.89L87.48 243.89Z" fill="#000"/>
<path d="M95.45 238.54L98.25 243.94L92.65 243.94Z" fill="#000"/>
<path d="M100.62 238.53L103.42 243.93L97.82 243.93Z" fill="#000"/>
<path d="M105.79 238.17L108.59 243.57L102.99 243.57Z" fill="#000"/>
<path d="M110.96 232.21L113.76 237.61L108.16 237.61Z" fill="#000"/>
<path d="M116.14 217.91L118.94 223.31L113.34 223.31Z" fill="#000"/>
<path d="M121.31 179.82L124.11 185.22L118.51 185.22Z" fill="#000"/>
<path d="M126.48 144.10L129.28 149.50L123.68 149.50Z" fill="#000"/>
<path d="M131.65 118.59L134.45 123.99L128.85 123.99Z" fill="#000"/>
<path d="M136.82 118.57L139.62 123.97L134.02 123.97Z" fill="#000"/>
<path d="M142.00 132.50L144.80 137.90L139.20 137.90Z" fill="#000"/>
<path d="M147.17 153.23L149.97 158.63L144.37 158.63Z" fill="#000"/>
<path d="M152.34 169.53L155.14 174.93L149.54 174.93Z" fill="#000"/>
<path d="M157.51 182.10L160.31 187.50L154.71 187.50Z" fill="#000"/>
<path d="M162.68 191.94L165.48 197.34L159.88 197.34Z" fill="#000"/>
<path d="M167.86 198.05L170.66 203.45L165.06 203.45Z" fill="#000"/>
<path d="M173.03 209.25L175.83 214.65L170.23 214.65Z" fill="#000"/>
<path d="M178.20 217.74L181.00 223.14L175.40 223.14Z" fill="#000"/>
<path d="M183.37 221.12L186.17 226.52L180.57 226.52Z" fill="#000"/>
<path d="M188.54 222.81L191.34 228.21L185.74 228.21Z" fill="#000"/>
<path d="M193.72 225.51L196.52 230.91L190.92 230.91Z" fill="#000"/>
<path d="M198.89 226.18L201.69 231.58L196.09 231.58Z" fill="#000"/>
<path d="M204.06 229.57L206.86 234.97L201.26 234.97Z" fill="#000"/>
<path d="M209.23 231.25L212.03 236.65L206.43 236.65Z" fill="#000"/>
<path d="M214.40 232.26L217.20 237.66L211.60 237.66Z" fill="#000"/>
<path d="M219.58 232.92L222.38 238.32L216.78 238.32Z" fill="#000"/>
<path d="M224.75 233.59L227.55 238.99L221.95 238.99Z" fill="#000"/>
<path d="M229.92 233.91L232.72 239.31L227.12 239.31Z" fill="#000"/>
<path d="M235.09 234.24L237.89 239.64L232.29 239.64Z" fill="#000"/>
<path d="M240.26 233.54L243.06 238.94L237.46 238.94Z" fill="#000"/>
<path d="M245.44 233.87L248.24 239.27L242.64 239.27Z" fill="#000"/>
<path d="M250.61 234.20L253.41 239.60L247.81 239.60Z" fill="#000"/>
<path d="M255.78 233.50L258.58 238.90L252.98 238.90Z" fill="#000"/>
<path d="M260.95 233.83L263.75 239.23L258.15 239.23Z" fill="#000"/>
<path d="M266.12 234.15L268.92 239.55L263.32 239.55Z" fill="#000"/>
<path d="M271.30 233.46L274.10 238.86L268.50 238.86Z" fill="#000"/>
<path d="M276.47 233.78L279.27 239.18L273.67 239.18Z" fill="#000"/>
<path d="M281.64 234.11L284.44 239.51L278.84 239.51Z" fill="#000"/>
<path d="M286.81 234.43L289.61 239.83L284.01 239.83Z" fill="#000"/>
<path d="M291.98 234.76L294.78 240.16L289.18 240.16Z" fill="#000"/>
<path d="M297.16 235.43L299.96 240.83L294.36 240.83Z" fill="#000"/>
<path d="M302.33 236.09L305.13 241.49L299.53 241.49Z" fill="#000"/>
<path d="M307.50 236.42L310.30 241.82L304.70 241.82Z" fill="#000"/>
<path d="M312.67 236.74L315.47 242.14L309.87 242.14Z" fill="#000"/>
<path d="M317.84 237.89L320.64 243.29L315.04 243.29Z" fill="#000"/>
<path d="M323.02 239.06L325.82 244.46L320.22 244.46Z" fill="#000"/>
<path d="M328.19 237.86L330.99 243.26L325.39 243.26Z" fill="#000"/>
<path d="M333.36 239.28L336.16 244.68L330.56 244.68Z" fill="#000"/>
<path d="M338.53 239.23L341.33 244.63L335.73 244.63Z" fill="#000"/>
<path d="M343.70 238.67L346.50 244.07L340.90 244.07Z" fill="#000"/>
<path d="M348.88 238.96L351.68 244.36L346.08 244.36Z" fill="#000"/>
<path d="M354.05 239.19L356.85 244.59L351.25 244.59Z" fill="#000"/>
<path d="M359.22 238.11L362.02 243.51L356.42 243.51Z" fill="#000"/>
<path d="M364.39 238.78L367.19 244.18L361.59 244.18Z" fill="#000"/>
<path d="M369.56 239.33L372.36 244.73L366.76 244.73Z" fill="#000"/>
<path d="M374.74 239.51L377.54 244.91L371.94 244.91Z" fill="#000"/>
<path d="M379.91 238.27L382.71 243.67L377.11 243.67Z" fill="#000"/>
<path d="M385.08 239.06L387.88 244.46L382.28 244.46Z" fill="#000"/>
<path d="M390.25 238.43L393.05 243.83L387.45 243.83Z" fill="#000"/>
<path d="M395.42 239.31L398.22 244.71L392.62 244.71Z" fill="#000"/>
<path d="M400.60 239.63L403.40 245.03L397.80 245.03Z" fill="#000"/>
<path d="M405.77 238.94L408.57 244.34L402.97 244.34Z" fill="#000"/>
<path d="M410.94 238.36L413.74 243.76L408.14 243.76Z" fill="#000"/>
<path d="M416.11 239.68L418.91 245.08L413.31 245.08Z" fill="#000"/>
<path d="M421.28 238.41L424.08 243.81L418.48 243.81Z" fill="#000"/>
<path d="M426.46 238.15L429.26 243.55L423.66 243.55Z" fill="#000"/>
<path d="M431.63 238.39L434.43 243.79L428.83 243.79Z" fill="#000"/>
<path d="M436.80 238.35L439.60 243.75L434.00 243.75Z" fill="#000"/>
<path d="M488.52 236.25L491.32 241.65L485.72 241.65Z" fill="#000"/>
<path d="M509.21 238.16L512.01 243.56L506.41 243.56Z" fill="#000"/>
<polyline points="59.24,242.06 64.42,242.15 69.59,242.23 74.76,242.10 79.93,241.45 85.10,242.00 90.28,236.28 95.45,207.37 100.62,151.94 105.79,99.90 110.96,80.17 116.14,94.77 121.31,120.60 126.48,147.10 131.65,168.51 136.82,191.95 142.00,201.80 147.17,214.71 152.34,215.71 157.51,223.52 162.68,222.48 167.86,227.57 173.03,230.95 178.20,233.32 183.37,235.34 188.54,237.03 193.72,238.03 198.89,239.04 204.06,239.71 209.23,240.82 214.40,241.15 219.58,240.86 224.75,242.10 229.92,242.19 235.09,241.00 240.26,241.97 245.44,241.91 250.61,243.01 255.78,242.18 260.95,241.85 266.12,242.99 271.30,241.77 276.47,241.74 281.64,242.91 286.81,241.75 291.98,242.08 297.16,241.64 302.33,242.31 307.50,241.59 312.67,241.52 317.84,242.98 323.02,242.91 328.19,241.65 333.36,241.06 338.53,242.52 343.70,242.10 348.88,241.82 354.05,242.38 359.22,242.29 364.39,242.39 369.56,242.28 374.74,241.81 379.91,242.42 385.08,242.26 390.25,241.45 395.42,242.98 400.60,241.87 405.77,241.53 410.94,242.40 416.11,242.58 421.28,241.39 426.46,242.54 431.63,242.65 436.80,242.14" fill="none" stroke="#111" stroke-width="1.1"/>
<circle cx="59.24" cy="242.06" r="2.4" fill="#000"/>
<circle cx="64.42" cy="242.15" r="2.4" fill="#000"/>
<circle cx="69.59" cy="242.23" r="2.4" fill="#000"/>
<circle cx="74.76" cy="242.10" r="2.4" fill="#000"/>
<circle cx="79.93" cy="241.45" r="2.4" fill="#000"/>
<circle cx="85.10" cy="242.00" r="2.4" fill="#000"/>
<circle cx="90.28" cy="236.28" r="2.4" fill="#000"/>
<circle cx="95.45" cy="207.37" r="2.4" fill="#000"/>
<circle cx="100.62" cy="151.94" r="2.4" fill="#000"/>
<circle cx="105.79" cy="99.90" r="2.4" fill="#000"/>
<circle cx="110.96" cy="80.17" r="2.4" fill="#000"/>
<circle cx="116.14" cy="94.77" r="2.4" fill="#000"/>
<circle cx="121.31" cy="120.60" r="2.4" fill="#000"/>
<circle cx="126.48" cy="147.10" r="2.4" fill="#000"/>
<circle cx="131.65" cy="168.51" r="2.4" fill="#000"/>
<circle cx="136.82" cy="191.95" r="2.4" fill="#000"/>
<circle cx="142.00" cy="201.80" r="2.4" fill="#000"/>
<circle cx="147.17" cy="214.71" r="2.4" fill="#000"/>
<circle cx="152.34" cy="215.71" r="2.4" fill="#000"/>
<circle cx="157.51" cy="223.52" r="2.4" fill="#000"/>
<circle cx="162.68" cy="222.48" r="2.4" fill="#000"/>
<circle cx="167.86" cy="227.57" r="2.4" fill="#000"/>
<circle cx="173.03" cy="230.95" r="2.4" fill="#000"/>
<circle cx="178.20" cy="233.32" r="2.4" fill="#000"/>
<circle cx="183.37" cy="235.34" r="2.4" fill="#000"/>
<circle cx="188.54" cy="237.03" r="2.4" fill="#000"/>
<circle cx="193.72" cy="238.03" r="2.4" fill="#000"/>
<circle cx="198.89" cy="239.04" r="2.4" fill="#000"/>
<circle cx="204.06" cy="239.71" r="2.4" fill="#000"/>
<circle cx="209.23" cy="240.82" r="2.4" fill="#000"/>
<circle cx="214.40" cy="241.15" r="2.4" fill="#000"/>
<circle cx="219.58" cy="240.86" r="2.4" fill="#000"/>
<circle cx="224.75" cy="242.10" r="2.4" fill="#000"/>
<circle cx="229.92" cy="242.19" r="2.4" fill="#000"/>
<circle cx="235.09" cy="241.00" r="2.4" fill="#000"/>
<circle cx="240.26" cy="241.97" r="2.4" fill="#000"/>
<circle cx="245.44" cy="241.91" r="2.4" fill="#000"/>
<circle cx="250.61" cy="243.01" r="2.4" fill="#000"/>
<circle cx="255.78" cy="242.18" r="2.4" fill="#000"/>
<circle cx="260.95" cy="241.85" r="2.4" fill="#000"/>
<circle cx="266.12" cy="242.99" r="2.4" fill="#000"/>
<circle cx="271.30" cy="241.77" r="2.4" fill="#000"/>
<circle cx="276.47" cy="241.74" r="2.4" fill="#000"/>
<circle cx="281.64" cy="242.91" r="2.4" fill="#000"/>
<circle cx="286.81" cy="241.75" r="2.4" fill="#000"/>
<circle cx="291.98" cy="242.08" r="2.4" fill="#000"/>
<circle cx="297.16" cy="241.64" r="2.4" fill="#000"/>
<circle cx="302.33" cy="242.31" r="2.4" fill="#000"/>
<circle cx="307.50" cy="241.59" r="2.4" fill="#000"/>
<circle cx="312.67" cy="241.52" r="2.4" fill="#000"/>
<circle cx="317.84" cy="242.98" r="2.4" fill="#000"/>
<circle cx="323.02" cy="242.91" r="2.4" fill="#000"/>
<circle cx="328.19" cy="241.65" r="2.4" fill="#000"/>
<circle cx="333.36" cy="241.06" r="2.4" fill="#000"/>
<circle cx="338.53" cy="242.52" r="2.4" fill="#000"/>
<circle cx="343.70" cy="242.10" r="2.4" fill="#000"/>
<circle cx="348.88" cy="241.82" r="2.4" fill="#000"/>
<circle cx="354.05" cy="242.38" r="2.4" fill="#000"/>
<circle cx="359.22" cy="242.29" r="2.4" fill="#000"/>
<circle cx="364.39" cy="242.39" r="2.4" fill="#000"/>
<circle cx="369.56" cy="242.28" r="2.4" fill="#000"/>
<circle cx="374.74" cy="241.81" r="2.4" fill="#000"/>
<circle cx="379.91" cy="242.42" r="2.4" fill="#000"/>
<circle cx="385.08" cy="242.26" r="2.4" fill="#000"/>
<circle cx="390.25" cy="241.45" r="2.4" fill="#000"/>
<circle cx="395.42" cy="242.98" r="2.4" fill="#000"/>
<circle cx="400.60" cy="241.87" r="2.4" fill="#000"/>
<circle cx="405.77" cy="241.53" r="2.4" fill="#000"/>
<circle cx="410.94" cy="242.40" r="2.4" fill="#000"/>
<circle cx="416.11" cy="242.58" r="2.4" fill="#000"/>
<circle cx="421.28" cy="241.39" r="2.4" fill="#000"/>
<circle cx="426.46" cy="242.54" r="2.4" fill="#000"/>
<circle cx="431.63" cy="242.65" r="2.4" fill="#000"/>
<circle cx="436.80" cy="242.14" r="2.4" fill="#000"/>
<polyline points="59.74,242.88 64.92,238.06 70.09,206.42 75.26,128.89 80.43,64.95 85.60,45.22 90.78,80.90 95.95,120.33 101.12,143.10 106.29,168.24 111.46,182.85 116.64,192.35 121.81,201.52 126.98,210.68 132.15,218.49 137.32,225.27 142.50,226.96 147.67,230.01 152.84,232.37 158.01,233.72 163.18,235.74 168.36,237.43 173.53,238.77 178.70,239.78 183.87,240.82 189.04,241.24 194.22,241.85 199.39,241.59 204.56,241.73 209.73,242.90 214.90,243.00 220.08,241.32 225.25,242.50 230.42,242.55 235.59,241.00 240.76,242.07 245.94,241.32 251.11,242.06 256.28,241.73 261.45,242.72 266.62,241.73 271.80,241.26 276.97,241.96 282.14,241.52 287.31,241.66 292.48,242.90 297.66,241.48 302.83,241.82 308.00,242.42 313.17,242.97 318.34,241.26 323.52,242.07 328.69,241.56 333.86,241.24 339.03,241.57 344.20,241.15 349.38,242.22 354.55,241.40 359.72,242.12 364.89,241.12 370.06,241.24 375.24,242.83 380.41,242.75 385.58,242.59 390.75,241.06 395.92,242.14 401.10,241.75 406.27,242.42 411.44,242.00 416.61,242.24 421.78,242.31 426.96,241.84 432.13,241.84 437.30,241.19" fill="none" stroke="#111" stroke-width="1.1"/>
<path d="M57.34 240.18L62.14 245.58M62.14 240.18L57.34 245.58M59.74 239.88V245.88" stroke="#000" stroke-width="1.1" fill="none"/>
<path d="M62.52 235.36L67.32 240.76M67.32 235.36L62.52 240.76M64.92 235.06V241.06" stroke="#000" stroke-width="1.1" fill="none"/>
<path d="M67.69 203.72L72.49 209.12M72.49 203.72L67.69 209.12M70.09 203.42V209.42" stroke="#000" stroke-width="1.1" fill="none"/>
<path d="M72.86 126.19L77.66 131.59M77.66 126.19L72.86 131.59M75.26 125.89V131.89" stroke="#000" stroke-width="1.1" fill="none"/>
<path d="M78.03 62.25L82.83 67.65M82.83 62.25L78.03 67.65M80.43 61.95V67.95" stroke="#000" stroke-width="1.1" fill="none"/>
<path d="M83.20 42.52L88.00 47.92M88.00 42.52L83.20 47.92M85.60 42.22V48.22" stroke="#000" stroke-width="1.1" fill="none"/>
<path d="M88.38 78.20L93.18 83.60M93.18 78.20L88.38 83.60M90.78 77.90V83.90" stroke="#000" stroke-width="1.1" fill="none"/>
<path d="M93.55 117.63L98.35 123.03M98.35 117.63L93.55 123.03M95.95 117.33V123.33" stroke="#000" stroke-width="1.1" fill="none"/>
<path d="M98.72 140.40L103.52 145.80M103.52 140.40L98.72 145.80M101.12 140.10V146.10" stroke="#000" stroke-width="1.1" fill="none"/>
<path d="M103.89 165.54L108.69 170.94M108.69 165.54L103.89 170.94M106.29 165.24V171.24" stroke="#000" stroke-width="1.1" fill="none"/>
<path d="M109.06 180.15L113.86 185.55M113.86 180.15L109.06 185.55M111.46 179.85V185.85" stroke="#000" stroke-width="1.1" fill="none"/>
<path d="M114.24 189.65L119.04 195.05M119.04 189.65L114.24 195.05M116.64 189.35V195.35" stroke="#000" stroke-width="1.1" fill="none"/>
<path d="M119.41 198.82L124.21 204.22M124.21 198.82L119.41 204.22M121.81 198.52V204.52" stroke="#000" stroke-width="1.1" fill="none"/>
<path d="M124.58 207.98L129.38 213.38M129.38 207.98L124.58 213.38M126.98 207.68V213.68" stroke="#000" stroke-width="1.1" fill="none"/>
<path d="M129.75 215.79L134.55 221.19M134.55 215.79L129.75 221.19M132.15 215.49V221.49" stroke="#000" stroke-width="1.1" fill="none"/>
<path d="M134.92 222.57L139.72 227.97M139.72 222.57L134.92 227.97M137.32 222.27V228.27" stroke="#000" stroke-width="1.1" fill="none"/>
<path d="M140.10 224.26L144.90 229.66M144.90 224.26L140.10 229.66M142.50 223.96V229.96" stroke="#000" stroke-width="1.1" fill="none"/>
<path d="M145.27 227.31L150.07 232.71M150.07 227.31L145.27 232.71M147.67 227.01V233.01" stroke="#000" stroke-width="1.1" fill="none"/>
<path d="M150.44 229.67L155.24 235.07M155.24 229.67L150.44 235.07M152.84 229.37V235.37" stroke="#000" stroke-width="1.1" fill="none"/>
<path d="M155.61 231.02L160.41 236.42M160.41 231.02L155.61 236.42M158.01 230.72V236.72" stroke="#000" stroke-width="1.1" fill="none"/>
<path d="M160.78 233.04L165.58 238.44M165.58 233.04L160.78 238.44M163.18 232.74V238.74" stroke="#000" stroke-width="1.1" fill="none"/>
<path d="M165.96 234.73L170.76 240.13M170.76 234.73L165.96 240.13M168.36 234.43V240.43" stroke="#000" stroke-width="1.1" fill="none"/>
<path d="M171.13 236.07L175.93 241.47M175.93 236.07L171.13 241.47M173.53 235.77V241.77" stroke="#000" stroke-width="1.1" fill="none"/>
<path d="M176.30 237.08L181.10 242.48M181.10 237.08L176.30 242.48M178.70 236.78V242.78" stroke="#000" stroke-width="1.1" fill="none"/>
<path d="M181.47 238.12L186.27 243.52M186.27 238.12L181.47 243.52M183.87 237.82V243.82" stroke="#000" stroke-width="1.1" fill="none"/>
<path d="M186.64 238.54L191.44 243.94M191.44 238.54L186.64 243.94M189.04 238.24V244.24" stroke="#000" stroke-width="1.1" fill="none"/>
<path d="M191.82 239.15L196.62 244.55M196.62 239.15L191.82 244.55M194.22 238.85V244.85" stroke="#000" stroke-width="1.1" fill="none"/>
<path d="M196.99 238.89L201.79 244.29M201.79 238.89L196.99 244.29M199.39 238.59V244.59" stroke="#000" stroke-width="1.1" fill="none"/>
<path d="M202.16 239.03L206.96 244.43M206.96 239.03L202.16 244.43M204.56 238.73V244.73" stroke="#000" stroke-width="1.1" fill="none"/>
<path d="M207.33 240.20L212.13 245.60M212.13 240.20L207.33 245.60M209.73 239.90V245.90" stroke="#000" stroke-width="1.1" fill="none"/>
<path d="M212.50 240.30L217.30 245.70M217.30 240.30L212.50 245.70M214.90 240.00V246.00" stroke="#000" stroke-width="1.1" fill="none"/>
<path d="M217.68 238.62L222.48 244.02M222.48 238.62L217.68 244.02M220.08 238.32V244.32" stroke="#000" stroke-width="1.1" fill="none"/>
<path d="M222.85 239.80L227.65 245.20M227.65 239.80L222.85 245.20M225.25 239.50V245.50" stroke="#000" stroke-width="1.1" fill="none"/>
<path d="M228.02 239.85L232.82 245.25M232.82 239.85L228.02 245.25M230.42 239.55V245.55" stroke="#000" stroke-width="1.1" fill="none"/>
<path d="M233.19 238.30L237.99 243.70M237.99 238.30L233.19 243.70M235.59 238.00V244.00" stroke="#000" stroke-width="1.1" fill="none"/>
<path d="M238.36 239.37L243.16 244.77M243.16 239.37L238.36 244.77M240.76 239.07V245.07" stroke="#000" stroke-width="1.1" fill="none"/>
<path d="M243.54 238.62L248.34 244.02M248.34 238.62L243.54 244.02M245.94 238.32V244.32" stroke="#000" stroke-width="1.1" fill="none"/>
<path d="M248.71 239.36L253.51 244.76M253.51 239.36L248.71 244.76M251.11 239.06V245.06" stroke="#000" stroke-width="1.1" fill="none"/>
<path d="M253.88 239.03L258.68 244.43M258.68 239.03L253.88 244.43M256.28 238.73V244.73" stroke="#000" stroke-width="1.1" fill="none"/>
<path d="M259.05 240.02L263.85 245.42M263.85 240.02L259.05 245.42M261.45 239.72V245.72" stroke="#000" stroke-width="1.1" fill="none"/>
<path d="M264.22 239.03L269.02 244.43M269.02 239.03L264.22 244.43M266.62 238.73V244.73" stroke="#000" stroke-width="1.1" fill="none"/>
<path d="M269.40 238.56L274.20 243.96M274.20 238.56L269.40 243.96M271.80 238.26V244.26" stroke="#000" stroke-width="1.1" fill="none"/>
<path d="M274.57 239.26L279.37 244.66M279.37 239.26L274.57 244.66M276.97 238.96V244.96" stroke="#000" stroke-width="1.1" fill="none"/>
<path d="M279.74 238.82L284.54 244.22M284.54 238.82L279.74 244.22M282.14 238.52V244.52" stroke="#000" stroke-width="1.1" fill="none"/>
<path d="M284.91 238.96L289.71 244.36M289.71 238.96L284.91 244.36M287.31 238.66V244.66" stroke="#000" stroke-width="1.1" fill="none"/>
<path d="M290.08 240.20L294.88 245.60M294.88 240.20L290.08 245.60M292.48 239.90V245.90" stroke="#000" stroke-width="1.1" fill="none"/>
<path d="M295.26 238.78L300.06 244.18M300.06 238.78L295.26 244.18M297.66 238.48V244.48" stroke="#000" stroke-width="1.1" fill="none"/>
<path d="M300.43 239.12L305.23 244.52M305.23 239.12L300.43 244.52M302.83 238.82V244.82" stroke="#000" stroke-width="1.1" fill="none"/>
<path d="M305.60 239.72L310.40 245.12M310.40 239.72L305.60 245.12M308.00 239.42V245.42" stroke="#000" stroke-width="1.1" fill="none"/>
<path d="M310.77 240.27L315.57 245.67M315.57 240.27L310.77 245.67M313.17 239.97V245.97" stroke="#000" stroke-width="1.1" fill="none"/>
<path d="M315.94 238.56L320.74 243.96M320.74 238.56L315.94 243.96M318.34 238.26V244.26" stroke="#000" stroke-width="1.1" fill="none"/>
<path d="M321.12 239.37L325.92 244.77M325.92 239.37L321.12 244.77M323.52 239.07V245.07" stroke="#000" stroke-width="1.1" fill="none"/>
<path d="M326.29 238.86L331.09 244.26M331.09 238.86L326.29 244.26M328.69 238.56V244.56" stroke="#000" stroke-width="1.1" fill="none"/>
<path d="M331.46 238.54L336.26 243.94M336.26 238.54L331.46 243.94M333.86 238.24V244.24" stroke="#000" stroke-width="1.1" fill="none"/>
<path d="M336.63 238.87L341.43 244.27M341.43 238.87L336.63 244.27M339.03 238.57V244.57" stroke="#000" stroke-width="1.1" fill="none"/>
<path d="M341.80 238.45L346.60 243.85M346.60 238.45L341.80 243.85M344.20 238.15V244.15" stroke="#000" stroke-width="1.1" fill="none"/>
<path d="M346.98 239.52L351.78 244.92M351.78 239.52L346.98 244.92M349.38 239.22V245.22" stroke="#000" stroke-width="1.1" fill="none"/>
<path d="M352.15 238.70L356.95 244.10M356.95 238.70L352.15 244.10M354.55 238.40V244.40" stroke="#000" stroke-width="1.1" fill="none"/>
<path d="M357.32 239.42L362.12 244.82M362.12 239.42L357.32 244.82M359.72 239.12V245.12" stroke="#000" stroke-width="1.1" fill="none"/>
<path d="M362.49 238.42L367.29 243.82M367.29 238.42L362.49 243.82M364.89 238.12V244.12" stroke="#000" stroke-width="1.1" fill="none"/>
<path d="M367.66 238.54L372.46 243.94M372.46 238.54L367.66 243.94M370.06 238.24V244.24" stroke="#000" stroke-width="1.1" fill="none"/>
<path d="M372.84 240.13L377.64 245.53M377.64 240.13L372.84 245.53M375.24 239.83V245.83" stroke="#000" stroke-width="1.1" fill="none"/>
<path d="M378.01 240.05L382.81 245.45M382.81 240.05L378.01 245.45M380.41 239.75V245.75" stroke="#000" stroke-width="1.1" fill="none"/>
<path d="M383.18 239.89L387.98 245.29M387.98 239.89L383.18 245.29M385.58 239.59V245.59" stroke="#000" stroke-width="1.1" fill="none"/>
<path d="M388.35 238.36L393.15 243.76M393.15 238.36L388.35 243.76M390.75 238.06V244.06" stroke="#000" stroke-width="1.1" fill="none"/>
<path d="M393.52 239.44L398.32 244.84M398.32 239.44L393.52 244.84M395.92 239.14V245.14" stroke="#000" stroke-width="1.1" fill="none"/>
<path d="M398.70 239.05L403.50 244.45M403.50 239.05L398.70 244.45M401.10 238.75V244.75" stroke="#000" stroke-width="1.1" fill="none"/>
<path d="M403.87 239.72L408.67 245.12M408.67 239.72L403.87 245.12M406.27 239.42V245.42" stroke="#000" stroke-width="1.1" fill="none"/>
<path d="M409.04 239.30L413.84 244.70M413.84 239.30L409.04 244.70M411.44 239.00V245.00" stroke="#000" stroke-width="1.1" fill="none"/>
<path d="M414.21 239.54L419.01 244.94M419.01 239.54L414.21 244.94M416.61 239.24V245.24" stroke="#000" stroke-width="1.1" fill="none"/>
<path d="M419.38 239.61L424.18 245.01M424.18 239.61L419.38 245.01M421.78 239.31V245.31" stroke="#000" stroke-width="1.1" fill="none"/>
<path d="M424.56 239.14L429.36 244.54M429.36 239.14L424.56 244.54M426.96 238.84V244.84" stroke="#000" stroke-width="1.1" fill="none"/>
<path d="M429.73 239.14L434.53 244.54M434.53 239.14L429.73 244.54M432.13 238.84V244.84" stroke="#000" stroke-width="1.1" fill="none"/>
<path d="M434.90 238.49L439.70 243.89M439.70 238.49L434.90 243.89M437.30 238.19V244.19" stroke="#000" stroke-width="1.1" fill="none"/>
<path d="M121.31 117.80L124.11 123.20L118.51 123.20Z" fill="#000"/>
<text x="42" y="246.30" text-anchor="end" class="tl">0</text>
<text x="42" y="212.30" text-anchor="end" class="tl">100</text>
<text x="42" y="178.30" text-anchor="end" class="tl">200</text>
<text x="42" y="144.30" text-anchor="end" class="tl">300</text>
<text x="42" y="110.30" text-anchor="end" class="tl">400</text>
<text x="42" y="76.30" text-anchor="end" class="tl">500</text>
<text x="42" y="42.30" text-anchor="end" class="tl">600</text>
<text x="42" y="8.30" text-anchor="end" class="tl">700</text>
<text x="49.80" y="260.3" text-anchor="middle" class="tl">0</text>
<text x="127.30" y="260.3" text-anchor="middle" class="tl">5</text>
<text x="204.80" y="260.3" text-anchor="middle" class="tl">10</text>
<text x="282.30" y="260.3" text-anchor="middle" class="tl">15</text>
<text x="359.80" y="260.3" text-anchor="middle" class="tl">20</text>
<text x="437.30" y="260.3" text-anchor="middle" class="tl">25</text>
<text x="514.80" y="260.3" text-anchor="middle" class="tl">30</text>
<text x="271" y="281.1" text-anchor="middle" class="tt">Time (min)</text>
<text transform="translate(11.1 122.1) rotate(-90)" x="0" y="0" text-anchor="middle" class="tt">Thrombin (nM)</text>
</g>
</svg>
</body></html>
